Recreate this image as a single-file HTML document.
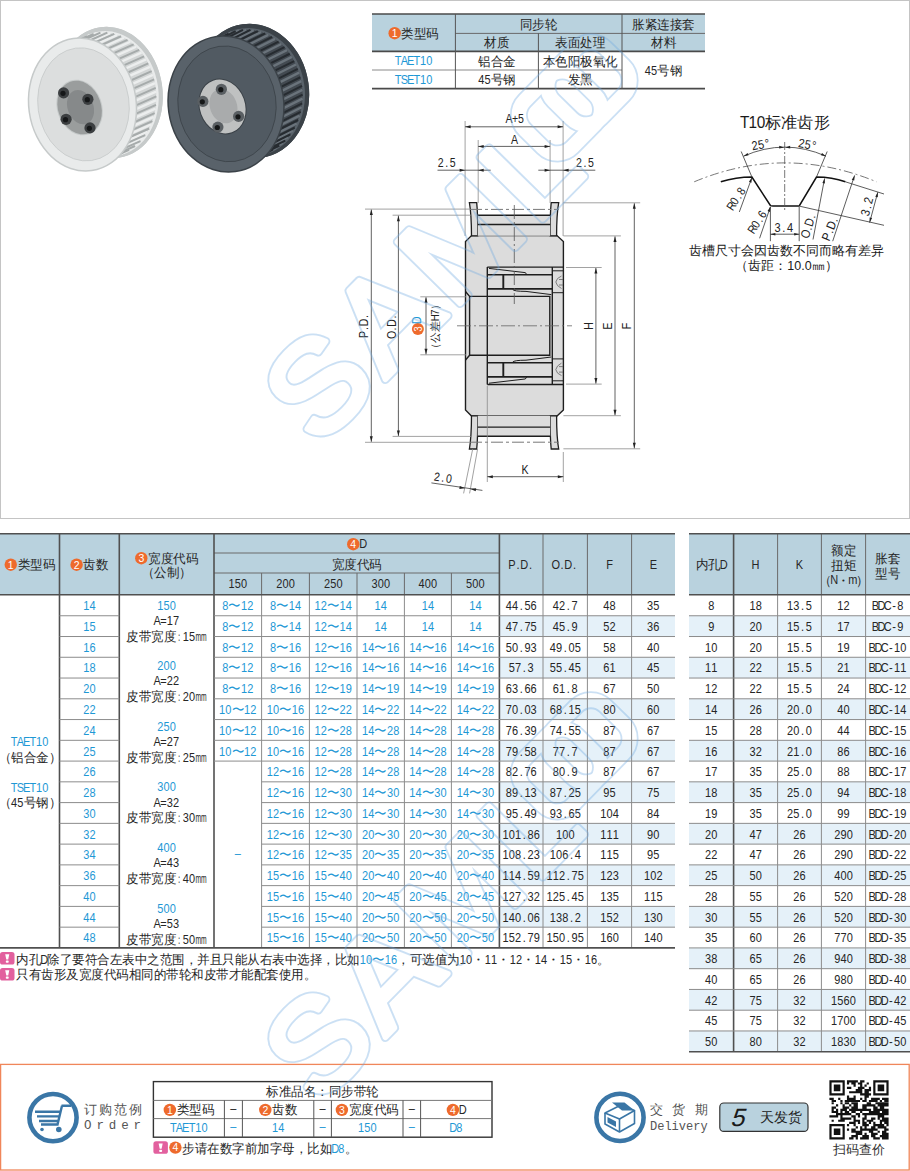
<!DOCTYPE html><html><head><meta charset="utf-8"><style>html,body{margin:0;padding:0;background:#fff;width:910px;height:1171px;overflow:hidden}svg{display:block;font-family:"Liberation Sans",sans-serif}</style></head><body>
<svg width="910" height="1171" viewBox="0 0 910 1171">
<rect x="0.5" y="0.5" width="909" height="518" fill="none" stroke="#c4c4c4" stroke-width="1"/>
<ellipse cx="109.50" cy="92.50" rx="53.00" ry="66.00" transform="rotate(-8 109.50 92.50)" fill="#c6caca"/>
<ellipse cx="108.00" cy="93.30" rx="50.35" ry="62.70" transform="rotate(-8 109.50 92.50)" fill="#e9ebeb"/>
<ellipse cx="106.80" cy="93.70" rx="49.29" ry="61.38" transform="rotate(-8 106.80 93.70)" fill="#d3d6d6"/>
<ellipse cx="104.37" cy="94.78" rx="49.29" ry="61.38" transform="rotate(-8 104.37 94.78)" fill="#d3d6d6"/>
<ellipse cx="101.94" cy="95.86" rx="49.29" ry="61.38" transform="rotate(-8 101.94 95.86)" fill="#d3d6d6"/>
<ellipse cx="99.51" cy="96.94" rx="49.29" ry="61.38" transform="rotate(-8 99.51 96.94)" fill="#d3d6d6"/>
<ellipse cx="97.08" cy="98.02" rx="49.29" ry="61.38" transform="rotate(-8 97.08 98.02)" fill="#d3d6d6"/>
<ellipse cx="94.65" cy="99.10" rx="49.29" ry="61.38" transform="rotate(-8 94.65 99.10)" fill="#d3d6d6"/>
<ellipse cx="92.22" cy="100.18" rx="49.29" ry="61.38" transform="rotate(-8 92.22 100.18)" fill="#d3d6d6"/>
<ellipse cx="89.79" cy="101.26" rx="49.29" ry="61.38" transform="rotate(-8 89.79 101.26)" fill="#d3d6d6"/>
<ellipse cx="87.36" cy="102.34" rx="49.29" ry="61.38" transform="rotate(-8 87.36 102.34)" fill="#d3d6d6"/>
<ellipse cx="84.93" cy="103.42" rx="49.29" ry="61.38" transform="rotate(-8 84.93 103.42)" fill="#d3d6d6"/>
<path d="M59.30,48.80L83.60,38.00M65.65,45.82L89.95,35.02M72.33,43.98L96.63,33.18M79.21,43.33L103.51,32.53M86.16,43.89L110.46,33.09M93.03,45.63L117.33,34.83M99.69,48.53L123.99,37.73M106.02,52.53L130.32,41.73M111.89,57.55L136.19,46.75M117.18,63.49L141.48,52.69M121.78,70.24L146.08,59.44M125.62,77.66L149.92,66.86M128.61,85.60L152.91,74.80M130.69,93.92L154.99,83.12M131.83,102.45L156.13,91.65M132.00,111.01L156.30,100.21M131.20,119.45L155.50,108.65M129.44,127.60L153.74,116.80M126.76,135.29L151.06,124.49M123.21,142.37L147.51,131.57M118.86,148.72L143.16,137.92M113.79,154.19L138.09,143.39M108.11,158.69L132.41,147.89M101.93,162.12L126.23,151.32M95.37,164.43L119.67,153.63M88.55,165.55L112.85,154.75M81.62,165.48L105.92,154.68M74.70,164.21L99.00,153.41" stroke="#eceeee" stroke-width="2.4" fill="none"/>
<path d="M56.59,50.51L80.89,39.71M62.75,47.02L87.05,36.22M69.29,44.66L93.59,33.86M76.10,43.48L100.40,32.68M83.03,43.49L107.33,32.69M89.95,44.70L114.25,33.90M96.73,47.08L121.03,36.28M103.22,50.60L127.52,39.80M109.31,55.17L133.61,44.37M114.87,60.71L139.17,49.91M119.80,67.11L144.10,56.31M123.99,74.24L148.29,63.44M127.37,81.97L151.67,71.17M129.87,90.14L154.17,79.34M131.44,98.60L155.74,87.80M132.04,107.16L156.34,96.36M131.68,115.68L155.98,104.88M130.35,123.98L154.65,113.18M128.07,131.89L152.37,121.09M124.91,139.27L149.21,128.47M120.91,145.96L145.21,135.16M116.15,151.84L140.45,141.04M110.74,156.79L135.04,145.99M104.77,160.71L129.07,149.91M98.36,163.53L122.66,152.73M91.64,165.19L115.94,154.39M84.75,165.66L109.05,154.86M77.80,164.93L102.10,154.13" stroke="#a6abab" stroke-width="2.0" fill="none"/>
<ellipse cx="109.50" cy="92.50" rx="52.20" ry="65.01" transform="rotate(-8 109.50 92.50)" fill="none" stroke="#c6caca" stroke-width="1.6"/>
<ellipse cx="82.50" cy="104.50" rx="54.50" ry="67.50" transform="rotate(-8 82.50 104.50)" fill="#c6caca"/>
<ellipse cx="82.50" cy="104.50" rx="53.00" ry="66.00" transform="rotate(-8 82.50 104.50)" fill="#e9ebeb"/>
<ellipse cx="83.50" cy="104.50" rx="45.58" ry="56.76" transform="rotate(-8 82.50 104.50)" fill="#dcdede" stroke="#c6caca" stroke-width="0.8"/>
<ellipse cx="79.60" cy="107.50" rx="22.50" ry="28.50" transform="rotate(-20 79.60 107.50)" fill="#c6caca"/>
<ellipse cx="79.60" cy="107.50" rx="21.50" ry="27.50" transform="rotate(-20 79.60 107.50)" fill="#9a9d9d"/>
<ellipse cx="80.60" cy="107.50" rx="12.90" ry="17.60" transform="rotate(-20 79.60 107.50)" fill="#86898a"/>
<circle cx="63.60" cy="92.90" r="5.6" fill="#3c3f41"/>
<circle cx="63.00" cy="93.30" r="2.6" fill="#151718"/>
<circle cx="87.90" cy="99.30" r="5.6" fill="#3c3f41"/>
<circle cx="87.30" cy="99.70" r="2.6" fill="#151718"/>
<circle cx="66.10" cy="119.30" r="5.6" fill="#3c3f41"/>
<circle cx="65.50" cy="119.70" r="2.6" fill="#151718"/>
<circle cx="90.00" cy="127.90" r="5.6" fill="#3c3f41"/>
<circle cx="89.40" cy="128.30" r="2.6" fill="#151718"/>
<ellipse cx="252.00" cy="91.00" rx="57.00" ry="67.50" transform="rotate(-8 252.00 91.00)" fill="#3b4248"/>
<ellipse cx="250.50" cy="91.80" rx="54.15" ry="64.12" transform="rotate(-8 252.00 91.00)" fill="#59626a"/>
<ellipse cx="249.40" cy="92.30" rx="53.01" ry="62.78" transform="rotate(-8 249.40 92.30)" fill="#434a51"/>
<ellipse cx="247.06" cy="93.47" rx="53.01" ry="62.78" transform="rotate(-8 247.06 93.47)" fill="#434a51"/>
<ellipse cx="244.72" cy="94.64" rx="53.01" ry="62.78" transform="rotate(-8 244.72 94.64)" fill="#434a51"/>
<ellipse cx="242.38" cy="95.81" rx="53.01" ry="62.78" transform="rotate(-8 242.38 95.81)" fill="#434a51"/>
<ellipse cx="240.04" cy="96.98" rx="53.01" ry="62.78" transform="rotate(-8 240.04 96.98)" fill="#434a51"/>
<ellipse cx="237.70" cy="98.15" rx="53.01" ry="62.78" transform="rotate(-8 237.70 98.15)" fill="#434a51"/>
<ellipse cx="235.36" cy="99.32" rx="53.01" ry="62.78" transform="rotate(-8 235.36 99.32)" fill="#434a51"/>
<ellipse cx="233.02" cy="100.49" rx="53.01" ry="62.78" transform="rotate(-8 233.02 100.49)" fill="#434a51"/>
<ellipse cx="230.68" cy="101.66" rx="53.01" ry="62.78" transform="rotate(-8 230.68 101.66)" fill="#434a51"/>
<ellipse cx="228.34" cy="102.83" rx="53.01" ry="62.78" transform="rotate(-8 228.34 102.83)" fill="#434a51"/>
<path d="M201.48,47.15L224.88,35.45M208.33,44.05L231.73,32.35M215.52,42.12L238.92,30.42M222.91,41.40L246.31,29.70M230.37,41.92L253.77,30.22M237.74,43.66L261.14,31.96M244.88,46.58L268.28,34.88M251.65,50.62L275.05,38.92M257.92,55.72L281.32,44.02M263.56,61.76L286.96,50.06M268.46,68.64L291.86,56.94M272.53,76.21L295.93,64.51M275.68,84.32L299.08,72.62M277.86,92.82L301.26,81.12M279.02,101.54L302.42,89.84M279.14,110.31L302.54,98.61M278.21,118.95L301.61,107.25M276.26,127.30L299.66,115.60M273.33,135.20L296.73,123.50M269.46,142.48L292.86,130.78M264.74,149.00L288.14,137.30M259.26,154.64L282.66,142.94M253.13,159.29L276.53,147.59M246.46,162.85L269.86,151.15M239.39,165.26L262.79,153.56M232.06,166.46L255.46,154.76M224.61,166.43L248.01,154.73M217.19,165.18L240.59,153.48" stroke="#6a737b" stroke-width="2.4" fill="none"/>
<path d="M198.55,48.92L221.95,37.22M205.20,45.30L228.60,33.60M212.25,42.84L235.65,31.14M219.57,41.57L242.97,29.87M227.02,41.54L250.42,29.84M234.44,42.72L257.84,31.02M241.71,45.12L265.11,33.42M248.66,48.67L272.06,36.97M255.17,53.30L278.57,41.60M261.10,58.93L284.50,47.23M266.35,65.45L289.75,53.75M270.80,72.72L294.20,61.02M274.38,80.61L297.78,68.91M277.00,88.96L300.40,77.26M278.62,97.60L302.02,85.90M279.21,106.37L302.61,94.67M278.76,115.09L302.16,103.39M277.27,123.59L300.67,111.89M274.77,131.71L298.17,120.01M271.31,139.29L294.71,127.59M266.97,146.17L290.37,134.47M261.81,152.22L285.21,140.52M255.96,157.33L279.36,145.63M249.52,161.39L272.92,149.69M242.61,164.32L266.01,152.62M235.38,166.07L258.78,154.37M227.97,166.60L251.37,154.90M220.52,165.90L243.92,154.20" stroke="#262b30" stroke-width="2.0" fill="none"/>
<ellipse cx="252.00" cy="91.00" rx="56.14" ry="66.49" transform="rotate(-8 252.00 91.00)" fill="none" stroke="#3b4248" stroke-width="1.6"/>
<ellipse cx="226.00" cy="104.00" rx="58.50" ry="69.00" transform="rotate(-8 226.00 104.00)" fill="#3b4248"/>
<ellipse cx="226.00" cy="104.00" rx="57.00" ry="67.50" transform="rotate(-8 226.00 104.00)" fill="#59626a"/>
<ellipse cx="227.00" cy="104.00" rx="49.02" ry="58.05" transform="rotate(-8 226.00 104.00)" fill="#515a62" stroke="#3b4248" stroke-width="0.8"/>
<ellipse cx="222.50" cy="106.50" rx="23.50" ry="28.50" transform="rotate(-20 222.50 106.50)" fill="#3b4248"/>
<ellipse cx="222.50" cy="106.50" rx="22.50" ry="27.50" transform="rotate(-20 222.50 106.50)" fill="#bfc1c1"/>
<ellipse cx="223.50" cy="106.50" rx="13.50" ry="17.60" transform="rotate(-20 222.50 106.50)" fill="#a9abac"/>
<circle cx="221.40" cy="89.30" r="5.6" fill="#5a5f63"/>
<circle cx="220.80" cy="89.70" r="2.6" fill="#151718"/>
<circle cx="202.90" cy="101.40" r="5.6" fill="#5a5f63"/>
<circle cx="202.30" cy="101.80" r="2.6" fill="#151718"/>
<circle cx="238.60" cy="116.40" r="5.6" fill="#5a5f63"/>
<circle cx="238.00" cy="116.80" r="2.6" fill="#151718"/>
<circle cx="217.90" cy="127.10" r="5.6" fill="#5a5f63"/>
<circle cx="217.30" cy="127.50" r="2.6" fill="#151718"/>
<rect x="372.00" y="14.00" width="333.00" height="37.40" fill="#b9d2de" />
<line x1="372.00" y1="14.00" x2="705.00" y2="14.00" stroke="#4a4a4a" stroke-width="1.6" />
<line x1="455.40" y1="33.40" x2="705.00" y2="33.40" stroke="#6a6a6a" stroke-width="1" />
<line x1="372.00" y1="51.40" x2="705.00" y2="51.40" stroke="#4a4a4a" stroke-width="1.6" />
<line x1="372.00" y1="70.00" x2="622.00" y2="70.00" stroke="#8a8a8a" stroke-width="1" />
<line x1="372.00" y1="88.60" x2="705.00" y2="88.60" stroke="#4a4a4a" stroke-width="1.6" />
<line x1="455.40" y1="14.00" x2="455.40" y2="88.60" stroke="#555" stroke-width="1" />
<line x1="538.40" y1="33.40" x2="538.40" y2="88.60" stroke="#555" stroke-width="1" />
<line x1="622.00" y1="14.00" x2="622.00" y2="88.60" stroke="#555" stroke-width="1" />
<circle cx="394.65" cy="33.20" r="6.2" fill="#ee6a2c"/>
<text x="394.65" y="37.00" font-size="10.5" fill="#fff" text-anchor="middle">1</text>
<text x="401.45" y="37.50" font-size="12.5" fill="#262626" text-anchor="start" textLength="37.50" lengthAdjust="spacingAndGlyphs" >类型码</text>
<text x="519.95" y="29.00" font-size="12.5" fill="#262626" text-anchor="start" textLength="37.50" lengthAdjust="spacingAndGlyphs" >同步轮</text>
<text x="632.25" y="29.00" font-size="12.5" fill="#262626" text-anchor="start" textLength="62.50" lengthAdjust="spacingAndGlyphs" >胀紧连接套</text>
<text x="484.40" y="47.20" font-size="12.5" fill="#262626" text-anchor="start" textLength="25.00" lengthAdjust="spacingAndGlyphs" >材质</text>
<text x="555.20" y="47.20" font-size="12.5" fill="#262626" text-anchor="start" textLength="50.00" lengthAdjust="spacingAndGlyphs" >表面处理</text>
<text x="651.00" y="47.20" font-size="12.5" fill="#262626" text-anchor="start" textLength="25.00" lengthAdjust="spacingAndGlyphs" >材料</text>
<text x="395.94 403.05 410.15 417.25 424.35 431.46" y="65.50" font-size="12.5" fill="#1e98d5" text-anchor="middle" transform="matrix(0.88,0,0,1,49.64,0)" >TAET10</text>
<text x="395.94 403.05 410.15 417.25 424.35 431.46" y="84.00" font-size="12.5" fill="#1e98d5" text-anchor="middle" transform="matrix(0.88,0,0,1,49.64,0)" >TSET10</text>
<text x="478.15" y="65.60" font-size="12.5" fill="#262626" text-anchor="start" textLength="37.50" lengthAdjust="spacingAndGlyphs" >铝合金</text>
<text x="480.85 487.95" y="84.20" font-size="12.5" fill="#262626" text-anchor="middle" transform="matrix(0.88,0,0,1,58.13,0)" >45</text>
<text x="490.65" y="84.20" font-size="12.5" fill="#262626" text-anchor="start" textLength="25.00" lengthAdjust="spacingAndGlyphs" >号钢</text>
<text x="542.70" y="65.60" font-size="12.5" fill="#262626" text-anchor="start" textLength="75.00" lengthAdjust="spacingAndGlyphs" >本色阳极氧化</text>
<text x="567.70" y="84.20" font-size="12.5" fill="#262626" text-anchor="start" textLength="25.00" lengthAdjust="spacingAndGlyphs" >发黑</text>
<text x="647.45 654.55" y="74.80" font-size="12.5" fill="#262626" text-anchor="middle" transform="matrix(0.88,0,0,1,78.12,0)" >45</text>
<text x="657.25" y="74.80" font-size="12.5" fill="#262626" text-anchor="start" textLength="25.00" lengthAdjust="spacingAndGlyphs" >号钢</text>
<path d="M471.5,235.6 L557,235.6 L563.4,241.5 L563.4,410 L557,416 L471.5,416 L465.5,410 L465.5,241.5 Z" fill="#dcdcdc" stroke="#1e1e1e" stroke-width="1.4"/>
<path d="M469.4,202.6 L476.7,202.6 Q477.9,214 477.7,235.8 L471.5,235.8 Q471.4,214 469.4,202.6 Z" fill="#dcdcdc" stroke="#1e1e1e" stroke-width="1.3"/>
<path d="M551.2,202.6 L558.7,202.6 Q556.6,214 556.6,235.8 L550.2,235.8 Q550.0,214 551.2,202.6 Z" fill="#dcdcdc" stroke="#1e1e1e" stroke-width="1.3"/>
<rect x="477.7" y="215.3" width="72.5" height="20.5" fill="#dcdcdc"/>
<path d="M477.7,215.3 H550.2 M477.7,224.5 H550.2" stroke="#1e1e1e" stroke-width="1.4" fill="none"/>
<g transform="matrix(1,0,0,-1,0,651.6)">
<path d="M469.4,202.6 L476.7,202.6 Q477.9,214 477.7,235.8 L471.5,235.8 Q471.4,214 469.4,202.6 Z" fill="#dcdcdc" stroke="#1e1e1e" stroke-width="1.3"/>
<path d="M551.2,202.6 L558.7,202.6 Q556.6,214 556.6,235.8 L550.2,235.8 Q550.0,214 551.2,202.6 Z" fill="#dcdcdc" stroke="#1e1e1e" stroke-width="1.3"/>
<rect x="477.7" y="215.3" width="72.5" height="20.5" fill="#dcdcdc"/>
<path d="M477.7,215.3 H550.2 M477.7,224.5 H550.2" stroke="#1e1e1e" stroke-width="1.4" fill="none"/>
</g>
<path d="M470,209.4 H559 M470,442.2 H559" stroke="#777" stroke-width="1" stroke-dasharray="12,3,3,3" fill="none"/>
<path d="M487.3,267.1 H563.4 M487.3,384.5 H563.4 M487.3,267.1 V384.5" stroke="#1e1e1e" fill="none" stroke-width="1.4"/>
<path d="M465.5,291.5 L469.6,296.4 H549.8 V355.2 H469.6 L465.5,360 M469.6,296.4 V355.2" stroke="#1e1e1e" fill="none" stroke-width="1.4"/>
<path d="M552.3,267.1 V384.5" stroke="#1e1e1e" fill="none" stroke-width="1.4"/>
<path d="M489,268.40 L525,272.60 Q526.5,273.20 526.5,274.60 M512.7,289.50 Q514,291.40 526,291.40 L551.3,294.60" stroke="#1e1e1e" fill="none" stroke-width="1"/>
<path d="M487.3,274.70 H552.3 M487.3,288.90 H552.3" stroke="#1e1e1e" fill="none" stroke-width="1.6"/>
<path d="M503.3,274.70 V288.90" stroke="#1e1e1e" fill="none" stroke-width="1.9"/>
<path d="M552.3,270.80 H563.4 M552.3,292.70 H563.4" stroke="#1e1e1e" fill="none" stroke-width="1"/>
<path d="M561.5,276.00 Q556.5,278.00 555.8,282.00 Q556.5,286.00 561.5,288.50 M563,279.50 H559 M563,285.00 H559" stroke="#666" fill="none" stroke-width="0.8"/>
<path d="M489,383.20 L525,379.00 Q526.5,378.40 526.5,377.00 M512.7,362.10 Q514,360.20 526,360.20 L551.3,357.00" stroke="#1e1e1e" fill="none" stroke-width="1"/>
<path d="M487.3,376.90 H552.3 M487.3,362.70 H552.3" stroke="#1e1e1e" fill="none" stroke-width="1.6"/>
<path d="M503.3,376.90 V362.70" stroke="#1e1e1e" fill="none" stroke-width="1.9"/>
<path d="M552.3,380.80 H563.4 M552.3,358.90 H563.4" stroke="#1e1e1e" fill="none" stroke-width="1"/>
<path d="M561.5,375.60 Q556.5,373.60 555.8,369.60 Q556.5,365.60 561.5,363.10 M563,372.10 H559 M563,366.60 H559" stroke="#666" fill="none" stroke-width="0.8"/>
<path d="M514.3,205 V304" stroke="#555" stroke-width="0.8" stroke-dasharray="14,3,2,3" fill="none"/>
<path d="M457,325.8 H572" stroke="#666" stroke-width="0.8" stroke-dasharray="14,3,2,3" fill="none"/>
<line x1="465.10" y1="121.00" x2="465.10" y2="236.00" stroke="#8a8a8a" stroke-width="0.8" />
<line x1="563.10" y1="121.00" x2="563.10" y2="236.00" stroke="#8a8a8a" stroke-width="0.8" />
<line x1="478.20" y1="140.00" x2="478.20" y2="203.00" stroke="#8a8a8a" stroke-width="0.8" />
<line x1="550.10" y1="140.00" x2="550.10" y2="203.00" stroke="#8a8a8a" stroke-width="0.8" />
<line x1="465.10" y1="126.80" x2="563.10" y2="126.80" stroke="#3a3a3a" stroke-width="0.8" />
<path d="M465.10,126.80L470.60,125.30L470.60,128.30Z" fill="#222"/>
<path d="M563.10,126.80L557.60,128.30L557.60,125.30Z" fill="#222"/>
<text x="508.18 515.00 521.82" y="123.22" font-size="12" fill="#222" text-anchor="middle" transform="matrix(0.88,0,0,1,61.80,0)" >A+5</text>
<line x1="478.20" y1="146.40" x2="550.10" y2="146.40" stroke="#3a3a3a" stroke-width="0.8" />
<path d="M478.20,146.40L483.70,144.90L483.70,147.90Z" fill="#222"/>
<path d="M550.10,146.40L544.60,147.90L544.60,144.90Z" fill="#222"/>
<text x="514.50" y="143.72" font-size="12" fill="#222" text-anchor="middle" transform="matrix(0.88,0,0,1,61.74,0)" >A</text>
<line x1="437.50" y1="170.20" x2="490.70" y2="170.20" stroke="#3a3a3a" stroke-width="0.8" />
<path d="M465.10,170.20L459.60,171.70L459.60,168.70Z" fill="#222"/>
<path d="M478.20,170.20L483.70,168.70L483.70,171.70Z" fill="#222"/>
<line x1="538.30" y1="170.20" x2="595.30" y2="170.20" stroke="#3a3a3a" stroke-width="0.8" />
<path d="M550.10,170.20L544.60,171.70L544.60,168.70Z" fill="#222"/>
<path d="M563.10,170.20L568.60,168.70L568.60,171.70Z" fill="#222"/>
<text x="439.98 446.80 453.62" y="166.82" font-size="12" fill="#222" text-anchor="middle" transform="matrix(0.88,0,0,1,53.62,0)" >2.5</text>
<text x="578.08 584.90 591.72" y="166.82" font-size="12" fill="#222" text-anchor="middle" transform="matrix(0.88,0,0,1,70.19,0)" >2.5</text>
<line x1="365.00" y1="209.10" x2="470.00" y2="209.10" stroke="#8a8a8a" stroke-width="0.8" />
<line x1="365.00" y1="442.30" x2="470.00" y2="442.30" stroke="#8a8a8a" stroke-width="0.8" />
<line x1="371.30" y1="209.60" x2="371.30" y2="441.80" stroke="#3a3a3a" stroke-width="0.8" />
<path d="M371.30,209.60L372.80,215.10L369.80,215.10Z" fill="#222"/>
<path d="M371.30,441.80L369.80,436.30L372.80,436.30Z" fill="#222"/>
<line x1="392.60" y1="215.20" x2="471.00" y2="215.20" stroke="#8a8a8a" stroke-width="0.8" />
<line x1="392.60" y1="436.40" x2="471.00" y2="436.40" stroke="#8a8a8a" stroke-width="0.8" />
<line x1="398.40" y1="215.70" x2="398.40" y2="435.90" stroke="#3a3a3a" stroke-width="0.8" />
<path d="M398.40,215.70L399.90,221.20L396.90,221.20Z" fill="#222"/>
<path d="M398.40,435.90L396.90,430.40L399.90,430.40Z" fill="#222"/>
<line x1="420.30" y1="296.80" x2="466.00" y2="296.80" stroke="#8a8a8a" stroke-width="0.8" />
<line x1="420.30" y1="354.80" x2="466.00" y2="354.80" stroke="#8a8a8a" stroke-width="0.8" />
<line x1="426.00" y1="297.30" x2="426.00" y2="354.30" stroke="#3a3a3a" stroke-width="0.8" />
<path d="M426.00,297.30L427.50,302.80L424.50,302.80Z" fill="#222"/>
<path d="M426.00,354.30L424.50,348.80L427.50,348.80Z" fill="#222"/>
<text x="353.77 360.59 367.41 374.23" y="329.82" font-size="12" fill="#222" text-anchor="middle" transform="rotate(-90 364.00 325.50) matrix(0.88,0,0,1,43.68,0)" >P.D.</text>
<text x="381.17 387.99 394.81 401.63" y="330.32" font-size="12" fill="#222" text-anchor="middle" transform="rotate(-90 391.40 326.00) matrix(0.88,0,0,1,46.97,0)" >O.D.</text>
<circle cx="417.9" cy="329" r="6" fill="#ee6a2c"/>
<text x="417.90" y="332.78" font-size="10.5" fill="#fff" text-anchor="middle" transform="rotate(-90 417.90 329.00) matrix(0.88,0,0,1,50.15,0)" >3</text>
<text x="416.50" y="324.62" font-size="12" fill="#1e98d5" text-anchor="middle" transform="rotate(-90 416.50 320.30) matrix(0.88,0,0,1,49.98,0)" >D</text>
<text x="407.10" y="329.96" font-size="11" fill="#222" text-anchor="start" textLength="33.00" lengthAdjust="spacingAndGlyphs" transform="rotate(-90 434.60 326.00)" >（公差</text>
<text x="442.48 448.73" y="329.96" font-size="11" fill="#222" text-anchor="middle" transform="rotate(-90 434.60 326.00) matrix(0.88,0,0,1,53.47,0)" >H7</text>
<text x="451.10" y="329.96" font-size="11" fill="#222" text-anchor="start" textLength="11.00" lengthAdjust="spacingAndGlyphs" transform="rotate(-90 434.60 326.00)" >）</text>
<line x1="563.40" y1="202.80" x2="640.20" y2="202.80" stroke="#8a8a8a" stroke-width="0.8" />
<line x1="563.40" y1="448.80" x2="640.20" y2="448.80" stroke="#8a8a8a" stroke-width="0.8" />
<line x1="634.30" y1="203.30" x2="634.30" y2="448.30" stroke="#3a3a3a" stroke-width="0.8" />
<path d="M634.30,203.30L635.80,208.80L632.80,208.80Z" fill="#222"/>
<path d="M634.30,448.30L632.80,442.80L635.80,442.80Z" fill="#222"/>
<line x1="563.40" y1="235.90" x2="620.90" y2="235.90" stroke="#8a8a8a" stroke-width="0.8" />
<line x1="563.40" y1="415.70" x2="620.90" y2="415.70" stroke="#8a8a8a" stroke-width="0.8" />
<line x1="615.00" y1="236.40" x2="615.00" y2="415.20" stroke="#3a3a3a" stroke-width="0.8" />
<path d="M615.00,236.40L616.50,241.90L613.50,241.90Z" fill="#222"/>
<path d="M615.00,415.20L613.50,409.70L616.50,409.70Z" fill="#222"/>
<line x1="566.00" y1="267.50" x2="601.70" y2="267.50" stroke="#8a8a8a" stroke-width="0.8" />
<line x1="566.00" y1="384.10" x2="601.70" y2="384.10" stroke="#8a8a8a" stroke-width="0.8" />
<line x1="595.90" y1="268.00" x2="595.90" y2="383.60" stroke="#3a3a3a" stroke-width="0.8" />
<path d="M595.90,268.00L597.40,273.50L594.40,273.50Z" fill="#222"/>
<path d="M595.90,383.60L594.40,378.10L597.40,378.10Z" fill="#222"/>
<text x="588.60" y="330.22" font-size="12" fill="#222" text-anchor="middle" transform="rotate(-90 588.60 325.90) matrix(0.88,0,0,1,70.63,0)" >H</text>
<text x="607.50" y="330.22" font-size="12" fill="#222" text-anchor="middle" transform="rotate(-90 607.50 325.90) matrix(0.88,0,0,1,72.90,0)" >E</text>
<text x="626.50" y="330.22" font-size="12" fill="#222" text-anchor="middle" transform="rotate(-90 626.50 325.90) matrix(0.88,0,0,1,75.18,0)" >F</text>
<line x1="487.30" y1="386.00" x2="487.30" y2="482.00" stroke="#8a8a8a" stroke-width="0.8" />
<line x1="563.30" y1="452.00" x2="563.30" y2="482.00" stroke="#8a8a8a" stroke-width="0.8" />
<line x1="487.30" y1="476.70" x2="563.30" y2="476.70" stroke="#3a3a3a" stroke-width="0.8" />
<path d="M487.30,476.70L492.80,475.20L492.80,478.20Z" fill="#222"/>
<path d="M563.30,476.70L557.80,478.20L557.80,475.20Z" fill="#222"/>
<text x="525.00" y="474.32" font-size="12" fill="#222" text-anchor="middle" transform="matrix(0.88,0,0,1,63.00,0)" >K</text>
<line x1="472.70" y1="449.00" x2="463.60" y2="493.40" stroke="#8a8a8a" stroke-width="0.8" />
<line x1="477.60" y1="449.00" x2="469.60" y2="493.40" stroke="#8a8a8a" stroke-width="0.8" />
<line x1="431.40" y1="482.90" x2="482.40" y2="490.40" stroke="#3a3a3a" stroke-width="0.8" />
<path d="M465.00,488.20L459.34,488.88L459.78,485.92Z" fill="#222"/>
<path d="M470.50,489.00L476.16,488.32L475.72,491.28Z" fill="#222"/>
<text x="436.18 443.00 449.82" y="481.82" font-size="12" fill="#222" text-anchor="middle" transform="rotate(8 443.00 477.50) matrix(0.88,0,0,1,53.16,0)" >2.0</text>
<text x="744.37 752.90 761.43" y="128.20" font-size="16.2" fill="#1a1a1a" text-anchor="middle" transform="matrix(0.95,0,0,1,37.65,0)" >T10</text>
<text x="765.05" y="128.20" font-size="16.2" fill="#1a1a1a" text-anchor="start" textLength="64.80" lengthAdjust="spacingAndGlyphs" >标准齿形</text>
<path d="M694.2,181.8 Q784.7,144 876.5,181.8" fill="none" stroke="#555" stroke-width="0.8" stroke-dasharray="9,3,2,3"/>
<path d="M720.8,181.8 Q736,177 751.9,177 L770.4,205.5 Q771,206.1 773,206.1 L797,206.1 Q799,206.1 799.5,205.5 L816.5,177 Q832,177 845.4,181.8" fill="none" stroke="#111" stroke-width="1.5"/>
<path d="M784.7,142 V210" stroke="#555" stroke-width="0.8" stroke-dasharray="8,2,2,2" fill="none"/>
<line x1="751.90" y1="177.00" x2="741.20" y2="151.50" stroke="#333" stroke-width="0.8" />
<line x1="816.50" y1="177.00" x2="827.20" y2="151.50" stroke="#333" stroke-width="0.8" />
<path d="M743.5,156.2 Q784.7,138 826,156.2" fill="none" stroke="#333" stroke-width="0.8"/>
<path d="M784.20,147.40L779.14,148.45L779.27,145.85Z" fill="#222"/>
<path d="M785.20,147.40L790.13,145.85L790.26,148.45Z" fill="#222"/>
<path d="M743.50,156.20L747.53,152.96L748.59,155.33Z" fill="#222"/>
<path d="M826.00,156.20L820.91,155.33L821.97,152.96Z" fill="#222"/>
<text x="753.90 761.00 768.10" y="148.80" font-size="12.5" fill="#222" text-anchor="middle" transform="rotate(-10 761.00 144.30) matrix(0.88,0,0,1,91.32,0)" >25°</text>
<text x="800.70 807.80 814.90" y="148.80" font-size="12.5" fill="#222" text-anchor="middle" transform="rotate(10 807.80 144.30) matrix(0.88,0,0,1,96.94,0)" >25°</text>
<line x1="739.30" y1="212.00" x2="751.90" y2="177.60" stroke="#333" stroke-width="0.8" />
<path d="M751.90,177.60L751.40,182.74L748.96,181.85Z" fill="#222"/>
<text x="725.77 732.59 739.41 746.23" y="202.72" font-size="12" fill="#222" text-anchor="middle" transform="rotate(-57 736.00 198.40) matrix(0.88,0,0,1,88.32,0)" >R0.8</text>
<line x1="759.60" y1="238.30" x2="770.40" y2="206.80" stroke="#333" stroke-width="0.8" />
<path d="M770.40,206.80L770.01,211.95L767.55,211.11Z" fill="#222"/>
<text x="746.97 753.79 760.61 767.43" y="226.02" font-size="12" fill="#222" text-anchor="middle" transform="rotate(-57 757.20 221.70) matrix(0.88,0,0,1,90.86,0)" >R0.6</text>
<line x1="770.40" y1="207.00" x2="770.40" y2="241.20" stroke="#333" stroke-width="0.8" />
<line x1="799.20" y1="207.00" x2="799.20" y2="241.20" stroke="#333" stroke-width="0.8" />
<line x1="770.40" y1="234.20" x2="799.20" y2="234.20" stroke="#333" stroke-width="0.8" />
<path d="M770.40,234.20L775.40,232.90L775.40,235.50Z" fill="#222"/>
<path d="M799.20,234.20L794.20,235.50L794.20,232.90Z" fill="#222"/>
<text x="776.70 783.80 790.90" y="232.20" font-size="12.5" fill="#222" text-anchor="middle" transform="matrix(0.88,0,0,1,94.06,0)" >3.4</text>
<line x1="813.00" y1="239.50" x2="824.60" y2="178.40" stroke="#333" stroke-width="0.8" />
<path d="M824.60,178.40L824.94,183.55L822.39,183.07Z" fill="#222"/>
<text x="797.55 804.65 811.75 818.85" y="229.50" font-size="12.5" fill="#222" text-anchor="middle" transform="rotate(-73 808.20 225.00) matrix(0.88,0,0,1,96.98,0)" >O.D.</text>
<line x1="832.70" y1="241.20" x2="854.60" y2="175.40" stroke="#333" stroke-width="0.8" />
<path d="M854.60,175.40L854.24,180.55L851.77,179.72Z" fill="#222"/>
<text x="819.35 826.45 833.55 840.65" y="232.50" font-size="12.5" fill="#222" text-anchor="middle" transform="rotate(-68 830.00 228.00) matrix(0.88,0,0,1,99.60,0)" >P.D.</text>
<line x1="799.20" y1="206.10" x2="884.00" y2="225.30" stroke="#333" stroke-width="0.8" />
<line x1="845.40" y1="181.80" x2="884.00" y2="194.00" stroke="#333" stroke-width="0.8" />
<line x1="877.80" y1="192.20" x2="869.60" y2="222.60" stroke="#333" stroke-width="0.8" />
<path d="M877.80,192.20L877.80,197.37L875.28,196.71Z" fill="#222"/>
<path d="M869.60,222.60L869.60,217.43L872.12,218.09Z" fill="#222"/>
<text x="859.60 866.70 873.80" y="211.00" font-size="12.5" fill="#222" text-anchor="middle" transform="rotate(-75 866.70 206.50) matrix(0.88,0,0,1,104.00,0)" >3.2</text>
<text x="786.90" y="254.60" font-size="12.8" fill="#1a1a1a" text-anchor="middle" >齿槽尺寸会因齿数不同而略有差异</text>
<text x="786.50" y="270.00" font-size="12.5" fill="#1a1a1a" text-anchor="middle" >（齿距：10.0㎜）</text>
<rect x="0.00" y="533.50" width="675.00" height="61.30" fill="#b9d2de" />
<rect x="689.00" y="533.50" width="221.00" height="61.30" fill="#b9d2de" />
<rect x="499.40" y="615.76" width="175.60" height="20.76" fill="#e5f1f9" />
<rect x="499.40" y="657.28" width="175.60" height="20.76" fill="#e5f1f9" />
<rect x="499.40" y="698.80" width="175.60" height="20.76" fill="#e5f1f9" />
<rect x="499.40" y="740.32" width="175.60" height="20.76" fill="#e5f1f9" />
<rect x="499.40" y="781.84" width="175.60" height="20.76" fill="#e5f1f9" />
<rect x="499.40" y="823.36" width="175.60" height="20.76" fill="#e5f1f9" />
<rect x="499.40" y="864.88" width="175.60" height="20.76" fill="#e5f1f9" />
<rect x="499.40" y="906.40" width="175.60" height="20.76" fill="#e5f1f9" />
<rect x="689.00" y="615.76" width="221.00" height="20.76" fill="#e5f1f9" />
<rect x="689.00" y="657.28" width="221.00" height="20.76" fill="#e5f1f9" />
<rect x="689.00" y="698.80" width="221.00" height="20.76" fill="#e5f1f9" />
<rect x="689.00" y="740.32" width="221.00" height="20.76" fill="#e5f1f9" />
<rect x="689.00" y="781.84" width="221.00" height="20.76" fill="#e5f1f9" />
<rect x="689.00" y="823.36" width="221.00" height="20.76" fill="#e5f1f9" />
<rect x="689.00" y="864.88" width="221.00" height="20.76" fill="#e5f1f9" />
<rect x="689.00" y="906.40" width="221.00" height="20.76" fill="#e5f1f9" />
<rect x="689.00" y="947.92" width="221.00" height="20.76" fill="#e5f1f9" />
<rect x="689.00" y="989.44" width="221.00" height="20.76" fill="#e5f1f9" />
<rect x="689.00" y="1030.96" width="221.00" height="20.76" fill="#e5f1f9" />
<line x1="214.00" y1="553.00" x2="499.40" y2="553.00" stroke="#6a6a6a" stroke-width="1" />
<line x1="214.00" y1="573.00" x2="499.40" y2="573.00" stroke="#6a6a6a" stroke-width="1" />
<line x1="261.60" y1="573.00" x2="261.60" y2="594.80" stroke="#6a6a6a" stroke-width="1" />
<line x1="309.40" y1="573.00" x2="309.40" y2="594.80" stroke="#6a6a6a" stroke-width="1" />
<line x1="357.00" y1="573.00" x2="357.00" y2="594.80" stroke="#6a6a6a" stroke-width="1" />
<line x1="404.40" y1="573.00" x2="404.40" y2="594.80" stroke="#6a6a6a" stroke-width="1" />
<line x1="451.40" y1="573.00" x2="451.40" y2="594.80" stroke="#6a6a6a" stroke-width="1" />
<line x1="59.50" y1="533.50" x2="59.50" y2="947.92" stroke="#505050" stroke-width="1.6" />
<line x1="119.30" y1="533.50" x2="119.30" y2="947.92" stroke="#505050" stroke-width="1.6" />
<line x1="214.00" y1="533.50" x2="214.00" y2="947.92" stroke="#505050" stroke-width="1.6" />
<line x1="499.40" y1="533.50" x2="499.40" y2="947.92" stroke="#505050" stroke-width="1.6" />
<line x1="543.00" y1="533.50" x2="543.00" y2="594.80" stroke="#6a6a6a" stroke-width="1" />
<line x1="543.00" y1="594.80" x2="543.00" y2="947.92" stroke="#8c8c8c" stroke-width="1" />
<line x1="587.40" y1="533.50" x2="587.40" y2="594.80" stroke="#6a6a6a" stroke-width="1" />
<line x1="587.40" y1="594.80" x2="587.40" y2="947.92" stroke="#8c8c8c" stroke-width="1" />
<line x1="631.60" y1="533.50" x2="631.60" y2="594.80" stroke="#6a6a6a" stroke-width="1" />
<line x1="631.60" y1="594.80" x2="631.60" y2="947.92" stroke="#8c8c8c" stroke-width="1" />
<line x1="261.60" y1="594.80" x2="261.60" y2="947.92" stroke="#8c8c8c" stroke-width="1" />
<line x1="309.40" y1="594.80" x2="309.40" y2="947.92" stroke="#8c8c8c" stroke-width="1" />
<line x1="357.00" y1="594.80" x2="357.00" y2="947.92" stroke="#8c8c8c" stroke-width="1" />
<line x1="404.40" y1="594.80" x2="404.40" y2="947.92" stroke="#8c8c8c" stroke-width="1" />
<line x1="451.40" y1="594.80" x2="451.40" y2="947.92" stroke="#8c8c8c" stroke-width="1" />
<line x1="733.60" y1="533.50" x2="733.60" y2="1051.72" stroke="#505050" stroke-width="1.6" />
<line x1="777.60" y1="533.50" x2="777.60" y2="594.80" stroke="#6a6a6a" stroke-width="1" />
<line x1="777.60" y1="594.80" x2="777.60" y2="1051.72" stroke="#8c8c8c" stroke-width="1" />
<line x1="821.40" y1="533.50" x2="821.40" y2="594.80" stroke="#6a6a6a" stroke-width="1" />
<line x1="821.40" y1="594.80" x2="821.40" y2="1051.72" stroke="#8c8c8c" stroke-width="1" />
<line x1="865.60" y1="533.50" x2="865.60" y2="594.80" stroke="#6a6a6a" stroke-width="1" />
<line x1="865.60" y1="594.80" x2="865.60" y2="1051.72" stroke="#8c8c8c" stroke-width="1" />
<line x1="59.50" y1="615.76" x2="119.30" y2="615.76" stroke="#8c8c8c" stroke-width="1" />
<line x1="214.00" y1="615.76" x2="675.00" y2="615.76" stroke="#8c8c8c" stroke-width="1" />
<line x1="59.50" y1="636.52" x2="119.30" y2="636.52" stroke="#8c8c8c" stroke-width="1" />
<line x1="214.00" y1="636.52" x2="675.00" y2="636.52" stroke="#8c8c8c" stroke-width="1" />
<line x1="59.50" y1="657.28" x2="119.30" y2="657.28" stroke="#8c8c8c" stroke-width="1" />
<line x1="214.00" y1="657.28" x2="675.00" y2="657.28" stroke="#8c8c8c" stroke-width="1" />
<line x1="59.50" y1="678.04" x2="119.30" y2="678.04" stroke="#8c8c8c" stroke-width="1" />
<line x1="214.00" y1="678.04" x2="675.00" y2="678.04" stroke="#8c8c8c" stroke-width="1" />
<line x1="59.50" y1="698.80" x2="119.30" y2="698.80" stroke="#8c8c8c" stroke-width="1" />
<line x1="214.00" y1="698.80" x2="675.00" y2="698.80" stroke="#8c8c8c" stroke-width="1" />
<line x1="59.50" y1="719.56" x2="119.30" y2="719.56" stroke="#8c8c8c" stroke-width="1" />
<line x1="214.00" y1="719.56" x2="675.00" y2="719.56" stroke="#8c8c8c" stroke-width="1" />
<line x1="59.50" y1="740.32" x2="119.30" y2="740.32" stroke="#8c8c8c" stroke-width="1" />
<line x1="214.00" y1="740.32" x2="675.00" y2="740.32" stroke="#8c8c8c" stroke-width="1" />
<line x1="59.50" y1="761.08" x2="119.30" y2="761.08" stroke="#8c8c8c" stroke-width="1" />
<line x1="214.00" y1="761.08" x2="675.00" y2="761.08" stroke="#8c8c8c" stroke-width="1" />
<line x1="59.50" y1="781.84" x2="119.30" y2="781.84" stroke="#8c8c8c" stroke-width="1" />
<line x1="261.60" y1="781.84" x2="675.00" y2="781.84" stroke="#8c8c8c" stroke-width="1" />
<line x1="59.50" y1="802.60" x2="119.30" y2="802.60" stroke="#8c8c8c" stroke-width="1" />
<line x1="261.60" y1="802.60" x2="675.00" y2="802.60" stroke="#8c8c8c" stroke-width="1" />
<line x1="59.50" y1="823.36" x2="119.30" y2="823.36" stroke="#8c8c8c" stroke-width="1" />
<line x1="261.60" y1="823.36" x2="675.00" y2="823.36" stroke="#8c8c8c" stroke-width="1" />
<line x1="59.50" y1="844.12" x2="119.30" y2="844.12" stroke="#8c8c8c" stroke-width="1" />
<line x1="261.60" y1="844.12" x2="675.00" y2="844.12" stroke="#8c8c8c" stroke-width="1" />
<line x1="59.50" y1="864.88" x2="119.30" y2="864.88" stroke="#8c8c8c" stroke-width="1" />
<line x1="261.60" y1="864.88" x2="675.00" y2="864.88" stroke="#8c8c8c" stroke-width="1" />
<line x1="59.50" y1="885.64" x2="119.30" y2="885.64" stroke="#8c8c8c" stroke-width="1" />
<line x1="261.60" y1="885.64" x2="675.00" y2="885.64" stroke="#8c8c8c" stroke-width="1" />
<line x1="59.50" y1="906.40" x2="119.30" y2="906.40" stroke="#8c8c8c" stroke-width="1" />
<line x1="261.60" y1="906.40" x2="675.00" y2="906.40" stroke="#8c8c8c" stroke-width="1" />
<line x1="59.50" y1="927.16" x2="119.30" y2="927.16" stroke="#8c8c8c" stroke-width="1" />
<line x1="261.60" y1="927.16" x2="675.00" y2="927.16" stroke="#8c8c8c" stroke-width="1" />
<line x1="689.00" y1="615.76" x2="910.00" y2="615.76" stroke="#8c8c8c" stroke-width="1" />
<line x1="689.00" y1="636.52" x2="910.00" y2="636.52" stroke="#8c8c8c" stroke-width="1" />
<line x1="689.00" y1="657.28" x2="910.00" y2="657.28" stroke="#8c8c8c" stroke-width="1" />
<line x1="689.00" y1="678.04" x2="910.00" y2="678.04" stroke="#8c8c8c" stroke-width="1" />
<line x1="689.00" y1="698.80" x2="910.00" y2="698.80" stroke="#8c8c8c" stroke-width="1" />
<line x1="689.00" y1="719.56" x2="910.00" y2="719.56" stroke="#8c8c8c" stroke-width="1" />
<line x1="689.00" y1="740.32" x2="910.00" y2="740.32" stroke="#8c8c8c" stroke-width="1" />
<line x1="689.00" y1="761.08" x2="910.00" y2="761.08" stroke="#8c8c8c" stroke-width="1" />
<line x1="689.00" y1="781.84" x2="910.00" y2="781.84" stroke="#8c8c8c" stroke-width="1" />
<line x1="689.00" y1="802.60" x2="910.00" y2="802.60" stroke="#8c8c8c" stroke-width="1" />
<line x1="689.00" y1="823.36" x2="910.00" y2="823.36" stroke="#8c8c8c" stroke-width="1" />
<line x1="689.00" y1="844.12" x2="910.00" y2="844.12" stroke="#8c8c8c" stroke-width="1" />
<line x1="689.00" y1="864.88" x2="910.00" y2="864.88" stroke="#8c8c8c" stroke-width="1" />
<line x1="689.00" y1="885.64" x2="910.00" y2="885.64" stroke="#8c8c8c" stroke-width="1" />
<line x1="689.00" y1="906.40" x2="910.00" y2="906.40" stroke="#8c8c8c" stroke-width="1" />
<line x1="689.00" y1="927.16" x2="910.00" y2="927.16" stroke="#8c8c8c" stroke-width="1" />
<line x1="689.00" y1="947.92" x2="910.00" y2="947.92" stroke="#8c8c8c" stroke-width="1" />
<line x1="689.00" y1="968.68" x2="910.00" y2="968.68" stroke="#8c8c8c" stroke-width="1" />
<line x1="689.00" y1="989.44" x2="910.00" y2="989.44" stroke="#8c8c8c" stroke-width="1" />
<line x1="689.00" y1="1010.20" x2="910.00" y2="1010.20" stroke="#8c8c8c" stroke-width="1" />
<line x1="689.00" y1="1030.96" x2="910.00" y2="1030.96" stroke="#8c8c8c" stroke-width="1" />
<line x1="0.00" y1="533.80" x2="675.00" y2="533.80" stroke="#505050" stroke-width="1.5" />
<line x1="0.00" y1="594.80" x2="675.00" y2="594.80" stroke="#505050" stroke-width="1.6" />
<line x1="0.00" y1="947.92" x2="675.00" y2="947.92" stroke="#505050" stroke-width="1.6" />
<line x1="689.00" y1="533.80" x2="910.00" y2="533.80" stroke="#505050" stroke-width="1.5" />
<line x1="689.00" y1="594.80" x2="910.00" y2="594.80" stroke="#505050" stroke-width="1.6" />
<line x1="689.00" y1="1051.72" x2="910.00" y2="1051.72" stroke="#505050" stroke-width="1.6" />
<circle cx="10.75" cy="564.70" r="6.2" fill="#ee6a2c"/>
<text x="10.75" y="568.50" font-size="10.5" fill="#fff" text-anchor="middle">1</text>
<text x="17.55" y="569.00" font-size="12.5" fill="#262626" text-anchor="start" textLength="37.50" lengthAdjust="spacingAndGlyphs" >类型码</text>
<circle cx="76.60" cy="564.70" r="6.2" fill="#ee6a2c"/>
<text x="76.60" y="568.50" font-size="10.5" fill="#fff" text-anchor="middle">2</text>
<text x="83.40" y="569.00" font-size="12.5" fill="#262626" text-anchor="start" textLength="25.00" lengthAdjust="spacingAndGlyphs" >齿数</text>
<circle cx="141.30" cy="558.20" r="6.2" fill="#ee6a2c"/>
<text x="141.30" y="562.00" font-size="10.5" fill="#fff" text-anchor="middle">3</text>
<text x="148.10" y="562.50" font-size="12.5" fill="#262626" text-anchor="start" textLength="50.00" lengthAdjust="spacingAndGlyphs" >宽度代码</text>
<text x="141.60" y="576.50" font-size="12.5" fill="#262626" text-anchor="start" textLength="50.00" lengthAdjust="spacingAndGlyphs" >（公制）</text>
<circle cx="353.27" cy="544.20" r="6.2" fill="#ee6a2c"/>
<text x="353.27" y="548.00" font-size="10.5" fill="#fff" text-anchor="middle">4</text>
<text x="363.20" y="548.50" font-size="12.5" fill="#262626" text-anchor="middle" transform="matrix(0.88,0,0,1,43.58,0)" >D</text>
<text x="331.70" y="568.50" font-size="12.5" fill="#262626" text-anchor="start" textLength="50.00" lengthAdjust="spacingAndGlyphs" >宽度代码</text>
<text x="230.70 237.80 244.90" y="588.40" font-size="12.5" fill="#262626" text-anchor="middle" transform="matrix(0.88,0,0,1,28.54,0)" >150</text>
<text x="278.40 285.50 292.60" y="588.40" font-size="12.5" fill="#262626" text-anchor="middle" transform="matrix(0.88,0,0,1,34.26,0)" >200</text>
<text x="326.10 333.20 340.30" y="588.40" font-size="12.5" fill="#262626" text-anchor="middle" transform="matrix(0.88,0,0,1,39.98,0)" >250</text>
<text x="373.60 380.70 387.80" y="588.40" font-size="12.5" fill="#262626" text-anchor="middle" transform="matrix(0.88,0,0,1,45.68,0)" >300</text>
<text x="420.80 427.90 435.00" y="588.40" font-size="12.5" fill="#262626" text-anchor="middle" transform="matrix(0.88,0,0,1,51.35,0)" >400</text>
<text x="468.30 475.40 482.50" y="588.40" font-size="12.5" fill="#262626" text-anchor="middle" transform="matrix(0.88,0,0,1,57.05,0)" >500</text>
<text x="510.55 517.65 524.75 531.85" y="569.00" font-size="12.5" fill="#262626" text-anchor="middle" transform="matrix(0.88,0,0,1,62.54,0)" >P.D.</text>
<text x="554.55 561.65 568.75 575.85" y="569.00" font-size="12.5" fill="#262626" text-anchor="middle" transform="matrix(0.88,0,0,1,67.82,0)" >O.D.</text>
<text x="609.50" y="569.00" font-size="12.5" fill="#262626" text-anchor="middle" transform="matrix(0.88,0,0,1,73.14,0)" >F</text>
<text x="653.30" y="569.00" font-size="12.5" fill="#262626" text-anchor="middle" transform="matrix(0.88,0,0,1,78.40,0)" >E</text>
<text x="695.67" y="569.00" font-size="12.5" fill="#262626" text-anchor="start" textLength="25.00" lengthAdjust="spacingAndGlyphs" >内孔</text>
<text x="723.80" y="569.00" font-size="12.5" fill="#262626" text-anchor="middle" transform="matrix(0.88,0,0,1,86.86,0)" >D</text>
<text x="755.60" y="569.00" font-size="12.5" fill="#262626" text-anchor="middle" transform="matrix(0.88,0,0,1,90.67,0)" >H</text>
<text x="799.50" y="569.00" font-size="12.5" fill="#262626" text-anchor="middle" transform="matrix(0.88,0,0,1,95.94,0)" >K</text>
<text x="831.00" y="555.00" font-size="12.5" fill="#262626" text-anchor="start" textLength="25.00" lengthAdjust="spacingAndGlyphs" >额定</text>
<text x="831.00" y="569.50" font-size="12.5" fill="#262626" text-anchor="start" textLength="25.00" lengthAdjust="spacingAndGlyphs" >扭矩</text>
<text x="818.50" y="584.50" font-size="12.5" fill="#262626" text-anchor="start" textLength="12.50" lengthAdjust="spacingAndGlyphs" >（</text>
<text x="834.12" y="584.50" font-size="12.5" fill="#262626" text-anchor="middle" transform="matrix(0.88,0,0,1,100.09,0)" >N</text>
<text x="837.25" y="584.50" font-size="12.5" fill="#262626" text-anchor="start" textLength="12.50" lengthAdjust="spacingAndGlyphs" >・</text>
<text x="852.88" y="584.50" font-size="12.5" fill="#262626" text-anchor="middle" transform="matrix(0.88,0,0,1,102.34,0)" >m</text>
<text x="856.00" y="584.50" font-size="12.5" fill="#262626" text-anchor="start" textLength="12.50" lengthAdjust="spacingAndGlyphs" >）</text>
<text x="875.30" y="562.50" font-size="12.5" fill="#262626" text-anchor="start" textLength="25.00" lengthAdjust="spacingAndGlyphs" >胀套</text>
<text x="875.30" y="577.50" font-size="12.5" fill="#262626" text-anchor="start" textLength="25.00" lengthAdjust="spacingAndGlyphs" >型号</text>
<text x="85.85 92.95" y="610.20" font-size="12.5" fill="#1e98d5" text-anchor="middle" transform="matrix(0.88,0,0,1,10.73,0)" >14</text>
<text x="225.30" y="610.20" font-size="12.5" fill="#1e98d5" text-anchor="middle" transform="matrix(0.88,0,0,1,27.04,0)" >8</text>
<text x="228.43" y="610.20" font-size="12.5" fill="#1e98d5" text-anchor="start" textLength="12.50" lengthAdjust="spacingAndGlyphs" >〜</text>
<text x="243.62 250.73" y="610.20" font-size="12.5" fill="#1e98d5" text-anchor="middle" transform="matrix(0.88,0,0,1,29.66,0)" >12</text>
<text x="273.00" y="610.20" font-size="12.5" fill="#1e98d5" text-anchor="middle" transform="matrix(0.88,0,0,1,32.76,0)" >8</text>
<text x="276.12" y="610.20" font-size="12.5" fill="#1e98d5" text-anchor="start" textLength="12.50" lengthAdjust="spacingAndGlyphs" >〜</text>
<text x="291.32 298.43" y="610.20" font-size="12.5" fill="#1e98d5" text-anchor="middle" transform="matrix(0.88,0,0,1,35.38,0)" >14</text>
<text x="317.15 324.25" y="610.20" font-size="12.5" fill="#1e98d5" text-anchor="middle" transform="matrix(0.88,0,0,1,38.48,0)" >12</text>
<text x="326.95" y="610.20" font-size="12.5" fill="#1e98d5" text-anchor="start" textLength="12.50" lengthAdjust="spacingAndGlyphs" >〜</text>
<text x="342.15 349.25" y="610.20" font-size="12.5" fill="#1e98d5" text-anchor="middle" transform="matrix(0.88,0,0,1,41.48,0)" >14</text>
<text x="377.15 384.25" y="610.20" font-size="12.5" fill="#1e98d5" text-anchor="middle" transform="matrix(0.88,0,0,1,45.68,0)" >14</text>
<text x="424.35 431.45" y="610.20" font-size="12.5" fill="#1e98d5" text-anchor="middle" transform="matrix(0.88,0,0,1,51.35,0)" >14</text>
<text x="471.85 478.95" y="610.20" font-size="12.5" fill="#1e98d5" text-anchor="middle" transform="matrix(0.88,0,0,1,57.05,0)" >14</text>
<text x="507.00 514.10 521.20 528.30 535.40" y="610.20" font-size="12.5" fill="#262626" text-anchor="middle" transform="matrix(0.88,0,0,1,62.54,0)" >44.56</text>
<text x="554.55 561.65 568.75 575.85" y="610.20" font-size="12.5" fill="#262626" text-anchor="middle" transform="matrix(0.88,0,0,1,67.82,0)" >42.7</text>
<text x="605.95 613.05" y="610.20" font-size="12.5" fill="#262626" text-anchor="middle" transform="matrix(0.88,0,0,1,73.14,0)" >48</text>
<text x="649.75 656.85" y="610.20" font-size="12.5" fill="#262626" text-anchor="middle" transform="matrix(0.88,0,0,1,78.40,0)" >35</text>
<text x="85.85 92.95" y="630.96" font-size="12.5" fill="#1e98d5" text-anchor="middle" transform="matrix(0.88,0,0,1,10.73,0)" >15</text>
<text x="225.30" y="630.96" font-size="12.5" fill="#1e98d5" text-anchor="middle" transform="matrix(0.88,0,0,1,27.04,0)" >8</text>
<text x="228.43" y="630.96" font-size="12.5" fill="#1e98d5" text-anchor="start" textLength="12.50" lengthAdjust="spacingAndGlyphs" >〜</text>
<text x="243.62 250.73" y="630.96" font-size="12.5" fill="#1e98d5" text-anchor="middle" transform="matrix(0.88,0,0,1,29.66,0)" >12</text>
<text x="273.00" y="630.96" font-size="12.5" fill="#1e98d5" text-anchor="middle" transform="matrix(0.88,0,0,1,32.76,0)" >8</text>
<text x="276.12" y="630.96" font-size="12.5" fill="#1e98d5" text-anchor="start" textLength="12.50" lengthAdjust="spacingAndGlyphs" >〜</text>
<text x="291.32 298.43" y="630.96" font-size="12.5" fill="#1e98d5" text-anchor="middle" transform="matrix(0.88,0,0,1,35.38,0)" >14</text>
<text x="317.15 324.25" y="630.96" font-size="12.5" fill="#1e98d5" text-anchor="middle" transform="matrix(0.88,0,0,1,38.48,0)" >12</text>
<text x="326.95" y="630.96" font-size="12.5" fill="#1e98d5" text-anchor="start" textLength="12.50" lengthAdjust="spacingAndGlyphs" >〜</text>
<text x="342.15 349.25" y="630.96" font-size="12.5" fill="#1e98d5" text-anchor="middle" transform="matrix(0.88,0,0,1,41.48,0)" >14</text>
<text x="377.15 384.25" y="630.96" font-size="12.5" fill="#1e98d5" text-anchor="middle" transform="matrix(0.88,0,0,1,45.68,0)" >14</text>
<text x="424.35 431.45" y="630.96" font-size="12.5" fill="#1e98d5" text-anchor="middle" transform="matrix(0.88,0,0,1,51.35,0)" >14</text>
<text x="471.85 478.95" y="630.96" font-size="12.5" fill="#1e98d5" text-anchor="middle" transform="matrix(0.88,0,0,1,57.05,0)" >14</text>
<text x="507.00 514.10 521.20 528.30 535.40" y="630.96" font-size="12.5" fill="#262626" text-anchor="middle" transform="matrix(0.88,0,0,1,62.54,0)" >47.75</text>
<text x="554.55 561.65 568.75 575.85" y="630.96" font-size="12.5" fill="#262626" text-anchor="middle" transform="matrix(0.88,0,0,1,67.82,0)" >45.9</text>
<text x="605.95 613.05" y="630.96" font-size="12.5" fill="#262626" text-anchor="middle" transform="matrix(0.88,0,0,1,73.14,0)" >52</text>
<text x="649.75 656.85" y="630.96" font-size="12.5" fill="#262626" text-anchor="middle" transform="matrix(0.88,0,0,1,78.40,0)" >36</text>
<text x="85.85 92.95" y="651.72" font-size="12.5" fill="#1e98d5" text-anchor="middle" transform="matrix(0.88,0,0,1,10.73,0)" >16</text>
<text x="225.30" y="651.72" font-size="12.5" fill="#1e98d5" text-anchor="middle" transform="matrix(0.88,0,0,1,27.04,0)" >8</text>
<text x="228.43" y="651.72" font-size="12.5" fill="#1e98d5" text-anchor="start" textLength="12.50" lengthAdjust="spacingAndGlyphs" >〜</text>
<text x="243.62 250.73" y="651.72" font-size="12.5" fill="#1e98d5" text-anchor="middle" transform="matrix(0.88,0,0,1,29.66,0)" >12</text>
<text x="273.00" y="651.72" font-size="12.5" fill="#1e98d5" text-anchor="middle" transform="matrix(0.88,0,0,1,32.76,0)" >8</text>
<text x="276.12" y="651.72" font-size="12.5" fill="#1e98d5" text-anchor="start" textLength="12.50" lengthAdjust="spacingAndGlyphs" >〜</text>
<text x="291.32 298.43" y="651.72" font-size="12.5" fill="#1e98d5" text-anchor="middle" transform="matrix(0.88,0,0,1,35.38,0)" >16</text>
<text x="317.15 324.25" y="651.72" font-size="12.5" fill="#1e98d5" text-anchor="middle" transform="matrix(0.88,0,0,1,38.48,0)" >12</text>
<text x="326.95" y="651.72" font-size="12.5" fill="#1e98d5" text-anchor="start" textLength="12.50" lengthAdjust="spacingAndGlyphs" >〜</text>
<text x="342.15 349.25" y="651.72" font-size="12.5" fill="#1e98d5" text-anchor="middle" transform="matrix(0.88,0,0,1,41.48,0)" >16</text>
<text x="364.65 371.75" y="651.72" font-size="12.5" fill="#1e98d5" text-anchor="middle" transform="matrix(0.88,0,0,1,44.18,0)" >14</text>
<text x="374.45" y="651.72" font-size="12.5" fill="#1e98d5" text-anchor="start" textLength="12.50" lengthAdjust="spacingAndGlyphs" >〜</text>
<text x="389.65 396.75" y="651.72" font-size="12.5" fill="#1e98d5" text-anchor="middle" transform="matrix(0.88,0,0,1,47.18,0)" >16</text>
<text x="411.85 418.95" y="651.72" font-size="12.5" fill="#1e98d5" text-anchor="middle" transform="matrix(0.88,0,0,1,49.85,0)" >14</text>
<text x="421.65" y="651.72" font-size="12.5" fill="#1e98d5" text-anchor="start" textLength="12.50" lengthAdjust="spacingAndGlyphs" >〜</text>
<text x="436.85 443.95" y="651.72" font-size="12.5" fill="#1e98d5" text-anchor="middle" transform="matrix(0.88,0,0,1,52.85,0)" >16</text>
<text x="459.35 466.45" y="651.72" font-size="12.5" fill="#1e98d5" text-anchor="middle" transform="matrix(0.88,0,0,1,55.55,0)" >14</text>
<text x="469.15" y="651.72" font-size="12.5" fill="#1e98d5" text-anchor="start" textLength="12.50" lengthAdjust="spacingAndGlyphs" >〜</text>
<text x="484.35 491.45" y="651.72" font-size="12.5" fill="#1e98d5" text-anchor="middle" transform="matrix(0.88,0,0,1,58.55,0)" >16</text>
<text x="507.00 514.10 521.20 528.30 535.40" y="651.72" font-size="12.5" fill="#262626" text-anchor="middle" transform="matrix(0.88,0,0,1,62.54,0)" >50.93</text>
<text x="551.00 558.10 565.20 572.30 579.40" y="651.72" font-size="12.5" fill="#262626" text-anchor="middle" transform="matrix(0.88,0,0,1,67.82,0)" >49.05</text>
<text x="605.95 613.05" y="651.72" font-size="12.5" fill="#262626" text-anchor="middle" transform="matrix(0.88,0,0,1,73.14,0)" >58</text>
<text x="649.75 656.85" y="651.72" font-size="12.5" fill="#262626" text-anchor="middle" transform="matrix(0.88,0,0,1,78.40,0)" >40</text>
<text x="85.85 92.95" y="672.48" font-size="12.5" fill="#1e98d5" text-anchor="middle" transform="matrix(0.88,0,0,1,10.73,0)" >18</text>
<text x="225.30" y="672.48" font-size="12.5" fill="#1e98d5" text-anchor="middle" transform="matrix(0.88,0,0,1,27.04,0)" >8</text>
<text x="228.43" y="672.48" font-size="12.5" fill="#1e98d5" text-anchor="start" textLength="12.50" lengthAdjust="spacingAndGlyphs" >〜</text>
<text x="243.62 250.73" y="672.48" font-size="12.5" fill="#1e98d5" text-anchor="middle" transform="matrix(0.88,0,0,1,29.66,0)" >12</text>
<text x="273.00" y="672.48" font-size="12.5" fill="#1e98d5" text-anchor="middle" transform="matrix(0.88,0,0,1,32.76,0)" >8</text>
<text x="276.12" y="672.48" font-size="12.5" fill="#1e98d5" text-anchor="start" textLength="12.50" lengthAdjust="spacingAndGlyphs" >〜</text>
<text x="291.32 298.43" y="672.48" font-size="12.5" fill="#1e98d5" text-anchor="middle" transform="matrix(0.88,0,0,1,35.38,0)" >16</text>
<text x="317.15 324.25" y="672.48" font-size="12.5" fill="#1e98d5" text-anchor="middle" transform="matrix(0.88,0,0,1,38.48,0)" >12</text>
<text x="326.95" y="672.48" font-size="12.5" fill="#1e98d5" text-anchor="start" textLength="12.50" lengthAdjust="spacingAndGlyphs" >〜</text>
<text x="342.15 349.25" y="672.48" font-size="12.5" fill="#1e98d5" text-anchor="middle" transform="matrix(0.88,0,0,1,41.48,0)" >16</text>
<text x="364.65 371.75" y="672.48" font-size="12.5" fill="#1e98d5" text-anchor="middle" transform="matrix(0.88,0,0,1,44.18,0)" >14</text>
<text x="374.45" y="672.48" font-size="12.5" fill="#1e98d5" text-anchor="start" textLength="12.50" lengthAdjust="spacingAndGlyphs" >〜</text>
<text x="389.65 396.75" y="672.48" font-size="12.5" fill="#1e98d5" text-anchor="middle" transform="matrix(0.88,0,0,1,47.18,0)" >16</text>
<text x="411.85 418.95" y="672.48" font-size="12.5" fill="#1e98d5" text-anchor="middle" transform="matrix(0.88,0,0,1,49.85,0)" >14</text>
<text x="421.65" y="672.48" font-size="12.5" fill="#1e98d5" text-anchor="start" textLength="12.50" lengthAdjust="spacingAndGlyphs" >〜</text>
<text x="436.85 443.95" y="672.48" font-size="12.5" fill="#1e98d5" text-anchor="middle" transform="matrix(0.88,0,0,1,52.85,0)" >16</text>
<text x="459.35 466.45" y="672.48" font-size="12.5" fill="#1e98d5" text-anchor="middle" transform="matrix(0.88,0,0,1,55.55,0)" >14</text>
<text x="469.15" y="672.48" font-size="12.5" fill="#1e98d5" text-anchor="start" textLength="12.50" lengthAdjust="spacingAndGlyphs" >〜</text>
<text x="484.35 491.45" y="672.48" font-size="12.5" fill="#1e98d5" text-anchor="middle" transform="matrix(0.88,0,0,1,58.55,0)" >16</text>
<text x="510.55 517.65 524.75 531.85" y="672.48" font-size="12.5" fill="#262626" text-anchor="middle" transform="matrix(0.88,0,0,1,62.54,0)" >57.3</text>
<text x="551.00 558.10 565.20 572.30 579.40" y="672.48" font-size="12.5" fill="#262626" text-anchor="middle" transform="matrix(0.88,0,0,1,67.82,0)" >55.45</text>
<text x="605.95 613.05" y="672.48" font-size="12.5" fill="#262626" text-anchor="middle" transform="matrix(0.88,0,0,1,73.14,0)" >61</text>
<text x="649.75 656.85" y="672.48" font-size="12.5" fill="#262626" text-anchor="middle" transform="matrix(0.88,0,0,1,78.40,0)" >45</text>
<text x="85.85 92.95" y="693.24" font-size="12.5" fill="#1e98d5" text-anchor="middle" transform="matrix(0.88,0,0,1,10.73,0)" >20</text>
<text x="225.30" y="693.24" font-size="12.5" fill="#1e98d5" text-anchor="middle" transform="matrix(0.88,0,0,1,27.04,0)" >8</text>
<text x="228.43" y="693.24" font-size="12.5" fill="#1e98d5" text-anchor="start" textLength="12.50" lengthAdjust="spacingAndGlyphs" >〜</text>
<text x="243.62 250.73" y="693.24" font-size="12.5" fill="#1e98d5" text-anchor="middle" transform="matrix(0.88,0,0,1,29.66,0)" >12</text>
<text x="273.00" y="693.24" font-size="12.5" fill="#1e98d5" text-anchor="middle" transform="matrix(0.88,0,0,1,32.76,0)" >8</text>
<text x="276.12" y="693.24" font-size="12.5" fill="#1e98d5" text-anchor="start" textLength="12.50" lengthAdjust="spacingAndGlyphs" >〜</text>
<text x="291.32 298.43" y="693.24" font-size="12.5" fill="#1e98d5" text-anchor="middle" transform="matrix(0.88,0,0,1,35.38,0)" >16</text>
<text x="317.15 324.25" y="693.24" font-size="12.5" fill="#1e98d5" text-anchor="middle" transform="matrix(0.88,0,0,1,38.48,0)" >12</text>
<text x="326.95" y="693.24" font-size="12.5" fill="#1e98d5" text-anchor="start" textLength="12.50" lengthAdjust="spacingAndGlyphs" >〜</text>
<text x="342.15 349.25" y="693.24" font-size="12.5" fill="#1e98d5" text-anchor="middle" transform="matrix(0.88,0,0,1,41.48,0)" >19</text>
<text x="364.65 371.75" y="693.24" font-size="12.5" fill="#1e98d5" text-anchor="middle" transform="matrix(0.88,0,0,1,44.18,0)" >14</text>
<text x="374.45" y="693.24" font-size="12.5" fill="#1e98d5" text-anchor="start" textLength="12.50" lengthAdjust="spacingAndGlyphs" >〜</text>
<text x="389.65 396.75" y="693.24" font-size="12.5" fill="#1e98d5" text-anchor="middle" transform="matrix(0.88,0,0,1,47.18,0)" >19</text>
<text x="411.85 418.95" y="693.24" font-size="12.5" fill="#1e98d5" text-anchor="middle" transform="matrix(0.88,0,0,1,49.85,0)" >14</text>
<text x="421.65" y="693.24" font-size="12.5" fill="#1e98d5" text-anchor="start" textLength="12.50" lengthAdjust="spacingAndGlyphs" >〜</text>
<text x="436.85 443.95" y="693.24" font-size="12.5" fill="#1e98d5" text-anchor="middle" transform="matrix(0.88,0,0,1,52.85,0)" >19</text>
<text x="459.35 466.45" y="693.24" font-size="12.5" fill="#1e98d5" text-anchor="middle" transform="matrix(0.88,0,0,1,55.55,0)" >14</text>
<text x="469.15" y="693.24" font-size="12.5" fill="#1e98d5" text-anchor="start" textLength="12.50" lengthAdjust="spacingAndGlyphs" >〜</text>
<text x="484.35 491.45" y="693.24" font-size="12.5" fill="#1e98d5" text-anchor="middle" transform="matrix(0.88,0,0,1,58.55,0)" >19</text>
<text x="507.00 514.10 521.20 528.30 535.40" y="693.24" font-size="12.5" fill="#262626" text-anchor="middle" transform="matrix(0.88,0,0,1,62.54,0)" >63.66</text>
<text x="554.55 561.65 568.75 575.85" y="693.24" font-size="12.5" fill="#262626" text-anchor="middle" transform="matrix(0.88,0,0,1,67.82,0)" >61.8</text>
<text x="605.95 613.05" y="693.24" font-size="12.5" fill="#262626" text-anchor="middle" transform="matrix(0.88,0,0,1,73.14,0)" >67</text>
<text x="649.75 656.85" y="693.24" font-size="12.5" fill="#262626" text-anchor="middle" transform="matrix(0.88,0,0,1,78.40,0)" >50</text>
<text x="85.85 92.95" y="714.00" font-size="12.5" fill="#1e98d5" text-anchor="middle" transform="matrix(0.88,0,0,1,10.73,0)" >22</text>
<text x="221.75 228.85" y="714.00" font-size="12.5" fill="#1e98d5" text-anchor="middle" transform="matrix(0.88,0,0,1,27.04,0)" >10</text>
<text x="231.55" y="714.00" font-size="12.5" fill="#1e98d5" text-anchor="start" textLength="12.50" lengthAdjust="spacingAndGlyphs" >〜</text>
<text x="246.75 253.85" y="714.00" font-size="12.5" fill="#1e98d5" text-anchor="middle" transform="matrix(0.88,0,0,1,30.04,0)" >12</text>
<text x="269.45 276.55" y="714.00" font-size="12.5" fill="#1e98d5" text-anchor="middle" transform="matrix(0.88,0,0,1,32.76,0)" >10</text>
<text x="279.25" y="714.00" font-size="12.5" fill="#1e98d5" text-anchor="start" textLength="12.50" lengthAdjust="spacingAndGlyphs" >〜</text>
<text x="294.45 301.55" y="714.00" font-size="12.5" fill="#1e98d5" text-anchor="middle" transform="matrix(0.88,0,0,1,35.76,0)" >16</text>
<text x="317.15 324.25" y="714.00" font-size="12.5" fill="#1e98d5" text-anchor="middle" transform="matrix(0.88,0,0,1,38.48,0)" >12</text>
<text x="326.95" y="714.00" font-size="12.5" fill="#1e98d5" text-anchor="start" textLength="12.50" lengthAdjust="spacingAndGlyphs" >〜</text>
<text x="342.15 349.25" y="714.00" font-size="12.5" fill="#1e98d5" text-anchor="middle" transform="matrix(0.88,0,0,1,41.48,0)" >22</text>
<text x="364.65 371.75" y="714.00" font-size="12.5" fill="#1e98d5" text-anchor="middle" transform="matrix(0.88,0,0,1,44.18,0)" >14</text>
<text x="374.45" y="714.00" font-size="12.5" fill="#1e98d5" text-anchor="start" textLength="12.50" lengthAdjust="spacingAndGlyphs" >〜</text>
<text x="389.65 396.75" y="714.00" font-size="12.5" fill="#1e98d5" text-anchor="middle" transform="matrix(0.88,0,0,1,47.18,0)" >22</text>
<text x="411.85 418.95" y="714.00" font-size="12.5" fill="#1e98d5" text-anchor="middle" transform="matrix(0.88,0,0,1,49.85,0)" >14</text>
<text x="421.65" y="714.00" font-size="12.5" fill="#1e98d5" text-anchor="start" textLength="12.50" lengthAdjust="spacingAndGlyphs" >〜</text>
<text x="436.85 443.95" y="714.00" font-size="12.5" fill="#1e98d5" text-anchor="middle" transform="matrix(0.88,0,0,1,52.85,0)" >22</text>
<text x="459.35 466.45" y="714.00" font-size="12.5" fill="#1e98d5" text-anchor="middle" transform="matrix(0.88,0,0,1,55.55,0)" >14</text>
<text x="469.15" y="714.00" font-size="12.5" fill="#1e98d5" text-anchor="start" textLength="12.50" lengthAdjust="spacingAndGlyphs" >〜</text>
<text x="484.35 491.45" y="714.00" font-size="12.5" fill="#1e98d5" text-anchor="middle" transform="matrix(0.88,0,0,1,58.55,0)" >22</text>
<text x="507.00 514.10 521.20 528.30 535.40" y="714.00" font-size="12.5" fill="#262626" text-anchor="middle" transform="matrix(0.88,0,0,1,62.54,0)" >70.03</text>
<text x="551.00 558.10 565.20 572.30 579.40" y="714.00" font-size="12.5" fill="#262626" text-anchor="middle" transform="matrix(0.88,0,0,1,67.82,0)" >68.15</text>
<text x="605.95 613.05" y="714.00" font-size="12.5" fill="#262626" text-anchor="middle" transform="matrix(0.88,0,0,1,73.14,0)" >80</text>
<text x="649.75 656.85" y="714.00" font-size="12.5" fill="#262626" text-anchor="middle" transform="matrix(0.88,0,0,1,78.40,0)" >60</text>
<text x="85.85 92.95" y="734.76" font-size="12.5" fill="#1e98d5" text-anchor="middle" transform="matrix(0.88,0,0,1,10.73,0)" >24</text>
<text x="221.75 228.85" y="734.76" font-size="12.5" fill="#1e98d5" text-anchor="middle" transform="matrix(0.88,0,0,1,27.04,0)" >10</text>
<text x="231.55" y="734.76" font-size="12.5" fill="#1e98d5" text-anchor="start" textLength="12.50" lengthAdjust="spacingAndGlyphs" >〜</text>
<text x="246.75 253.85" y="734.76" font-size="12.5" fill="#1e98d5" text-anchor="middle" transform="matrix(0.88,0,0,1,30.04,0)" >12</text>
<text x="269.45 276.55" y="734.76" font-size="12.5" fill="#1e98d5" text-anchor="middle" transform="matrix(0.88,0,0,1,32.76,0)" >10</text>
<text x="279.25" y="734.76" font-size="12.5" fill="#1e98d5" text-anchor="start" textLength="12.50" lengthAdjust="spacingAndGlyphs" >〜</text>
<text x="294.45 301.55" y="734.76" font-size="12.5" fill="#1e98d5" text-anchor="middle" transform="matrix(0.88,0,0,1,35.76,0)" >16</text>
<text x="317.15 324.25" y="734.76" font-size="12.5" fill="#1e98d5" text-anchor="middle" transform="matrix(0.88,0,0,1,38.48,0)" >12</text>
<text x="326.95" y="734.76" font-size="12.5" fill="#1e98d5" text-anchor="start" textLength="12.50" lengthAdjust="spacingAndGlyphs" >〜</text>
<text x="342.15 349.25" y="734.76" font-size="12.5" fill="#1e98d5" text-anchor="middle" transform="matrix(0.88,0,0,1,41.48,0)" >28</text>
<text x="364.65 371.75" y="734.76" font-size="12.5" fill="#1e98d5" text-anchor="middle" transform="matrix(0.88,0,0,1,44.18,0)" >14</text>
<text x="374.45" y="734.76" font-size="12.5" fill="#1e98d5" text-anchor="start" textLength="12.50" lengthAdjust="spacingAndGlyphs" >〜</text>
<text x="389.65 396.75" y="734.76" font-size="12.5" fill="#1e98d5" text-anchor="middle" transform="matrix(0.88,0,0,1,47.18,0)" >28</text>
<text x="411.85 418.95" y="734.76" font-size="12.5" fill="#1e98d5" text-anchor="middle" transform="matrix(0.88,0,0,1,49.85,0)" >14</text>
<text x="421.65" y="734.76" font-size="12.5" fill="#1e98d5" text-anchor="start" textLength="12.50" lengthAdjust="spacingAndGlyphs" >〜</text>
<text x="436.85 443.95" y="734.76" font-size="12.5" fill="#1e98d5" text-anchor="middle" transform="matrix(0.88,0,0,1,52.85,0)" >28</text>
<text x="459.35 466.45" y="734.76" font-size="12.5" fill="#1e98d5" text-anchor="middle" transform="matrix(0.88,0,0,1,55.55,0)" >14</text>
<text x="469.15" y="734.76" font-size="12.5" fill="#1e98d5" text-anchor="start" textLength="12.50" lengthAdjust="spacingAndGlyphs" >〜</text>
<text x="484.35 491.45" y="734.76" font-size="12.5" fill="#1e98d5" text-anchor="middle" transform="matrix(0.88,0,0,1,58.55,0)" >28</text>
<text x="507.00 514.10 521.20 528.30 535.40" y="734.76" font-size="12.5" fill="#262626" text-anchor="middle" transform="matrix(0.88,0,0,1,62.54,0)" >76.39</text>
<text x="551.00 558.10 565.20 572.30 579.40" y="734.76" font-size="12.5" fill="#262626" text-anchor="middle" transform="matrix(0.88,0,0,1,67.82,0)" >74.55</text>
<text x="605.95 613.05" y="734.76" font-size="12.5" fill="#262626" text-anchor="middle" transform="matrix(0.88,0,0,1,73.14,0)" >87</text>
<text x="649.75 656.85" y="734.76" font-size="12.5" fill="#262626" text-anchor="middle" transform="matrix(0.88,0,0,1,78.40,0)" >67</text>
<text x="85.85 92.95" y="755.52" font-size="12.5" fill="#1e98d5" text-anchor="middle" transform="matrix(0.88,0,0,1,10.73,0)" >25</text>
<text x="221.75 228.85" y="755.52" font-size="12.5" fill="#1e98d5" text-anchor="middle" transform="matrix(0.88,0,0,1,27.04,0)" >10</text>
<text x="231.55" y="755.52" font-size="12.5" fill="#1e98d5" text-anchor="start" textLength="12.50" lengthAdjust="spacingAndGlyphs" >〜</text>
<text x="246.75 253.85" y="755.52" font-size="12.5" fill="#1e98d5" text-anchor="middle" transform="matrix(0.88,0,0,1,30.04,0)" >12</text>
<text x="269.45 276.55" y="755.52" font-size="12.5" fill="#1e98d5" text-anchor="middle" transform="matrix(0.88,0,0,1,32.76,0)" >10</text>
<text x="279.25" y="755.52" font-size="12.5" fill="#1e98d5" text-anchor="start" textLength="12.50" lengthAdjust="spacingAndGlyphs" >〜</text>
<text x="294.45 301.55" y="755.52" font-size="12.5" fill="#1e98d5" text-anchor="middle" transform="matrix(0.88,0,0,1,35.76,0)" >16</text>
<text x="317.15 324.25" y="755.52" font-size="12.5" fill="#1e98d5" text-anchor="middle" transform="matrix(0.88,0,0,1,38.48,0)" >12</text>
<text x="326.95" y="755.52" font-size="12.5" fill="#1e98d5" text-anchor="start" textLength="12.50" lengthAdjust="spacingAndGlyphs" >〜</text>
<text x="342.15 349.25" y="755.52" font-size="12.5" fill="#1e98d5" text-anchor="middle" transform="matrix(0.88,0,0,1,41.48,0)" >28</text>
<text x="364.65 371.75" y="755.52" font-size="12.5" fill="#1e98d5" text-anchor="middle" transform="matrix(0.88,0,0,1,44.18,0)" >14</text>
<text x="374.45" y="755.52" font-size="12.5" fill="#1e98d5" text-anchor="start" textLength="12.50" lengthAdjust="spacingAndGlyphs" >〜</text>
<text x="389.65 396.75" y="755.52" font-size="12.5" fill="#1e98d5" text-anchor="middle" transform="matrix(0.88,0,0,1,47.18,0)" >28</text>
<text x="411.85 418.95" y="755.52" font-size="12.5" fill="#1e98d5" text-anchor="middle" transform="matrix(0.88,0,0,1,49.85,0)" >14</text>
<text x="421.65" y="755.52" font-size="12.5" fill="#1e98d5" text-anchor="start" textLength="12.50" lengthAdjust="spacingAndGlyphs" >〜</text>
<text x="436.85 443.95" y="755.52" font-size="12.5" fill="#1e98d5" text-anchor="middle" transform="matrix(0.88,0,0,1,52.85,0)" >28</text>
<text x="459.35 466.45" y="755.52" font-size="12.5" fill="#1e98d5" text-anchor="middle" transform="matrix(0.88,0,0,1,55.55,0)" >14</text>
<text x="469.15" y="755.52" font-size="12.5" fill="#1e98d5" text-anchor="start" textLength="12.50" lengthAdjust="spacingAndGlyphs" >〜</text>
<text x="484.35 491.45" y="755.52" font-size="12.5" fill="#1e98d5" text-anchor="middle" transform="matrix(0.88,0,0,1,58.55,0)" >28</text>
<text x="507.00 514.10 521.20 528.30 535.40" y="755.52" font-size="12.5" fill="#262626" text-anchor="middle" transform="matrix(0.88,0,0,1,62.54,0)" >79.58</text>
<text x="554.55 561.65 568.75 575.85" y="755.52" font-size="12.5" fill="#262626" text-anchor="middle" transform="matrix(0.88,0,0,1,67.82,0)" >77.7</text>
<text x="605.95 613.05" y="755.52" font-size="12.5" fill="#262626" text-anchor="middle" transform="matrix(0.88,0,0,1,73.14,0)" >87</text>
<text x="649.75 656.85" y="755.52" font-size="12.5" fill="#262626" text-anchor="middle" transform="matrix(0.88,0,0,1,78.40,0)" >67</text>
<text x="85.85 92.95" y="776.28" font-size="12.5" fill="#1e98d5" text-anchor="middle" transform="matrix(0.88,0,0,1,10.73,0)" >26</text>
<text x="269.45 276.55" y="776.28" font-size="12.5" fill="#1e98d5" text-anchor="middle" transform="matrix(0.88,0,0,1,32.76,0)" >12</text>
<text x="279.25" y="776.28" font-size="12.5" fill="#1e98d5" text-anchor="start" textLength="12.50" lengthAdjust="spacingAndGlyphs" >〜</text>
<text x="294.45 301.55" y="776.28" font-size="12.5" fill="#1e98d5" text-anchor="middle" transform="matrix(0.88,0,0,1,35.76,0)" >16</text>
<text x="317.15 324.25" y="776.28" font-size="12.5" fill="#1e98d5" text-anchor="middle" transform="matrix(0.88,0,0,1,38.48,0)" >12</text>
<text x="326.95" y="776.28" font-size="12.5" fill="#1e98d5" text-anchor="start" textLength="12.50" lengthAdjust="spacingAndGlyphs" >〜</text>
<text x="342.15 349.25" y="776.28" font-size="12.5" fill="#1e98d5" text-anchor="middle" transform="matrix(0.88,0,0,1,41.48,0)" >28</text>
<text x="364.65 371.75" y="776.28" font-size="12.5" fill="#1e98d5" text-anchor="middle" transform="matrix(0.88,0,0,1,44.18,0)" >14</text>
<text x="374.45" y="776.28" font-size="12.5" fill="#1e98d5" text-anchor="start" textLength="12.50" lengthAdjust="spacingAndGlyphs" >〜</text>
<text x="389.65 396.75" y="776.28" font-size="12.5" fill="#1e98d5" text-anchor="middle" transform="matrix(0.88,0,0,1,47.18,0)" >28</text>
<text x="411.85 418.95" y="776.28" font-size="12.5" fill="#1e98d5" text-anchor="middle" transform="matrix(0.88,0,0,1,49.85,0)" >14</text>
<text x="421.65" y="776.28" font-size="12.5" fill="#1e98d5" text-anchor="start" textLength="12.50" lengthAdjust="spacingAndGlyphs" >〜</text>
<text x="436.85 443.95" y="776.28" font-size="12.5" fill="#1e98d5" text-anchor="middle" transform="matrix(0.88,0,0,1,52.85,0)" >28</text>
<text x="459.35 466.45" y="776.28" font-size="12.5" fill="#1e98d5" text-anchor="middle" transform="matrix(0.88,0,0,1,55.55,0)" >14</text>
<text x="469.15" y="776.28" font-size="12.5" fill="#1e98d5" text-anchor="start" textLength="12.50" lengthAdjust="spacingAndGlyphs" >〜</text>
<text x="484.35 491.45" y="776.28" font-size="12.5" fill="#1e98d5" text-anchor="middle" transform="matrix(0.88,0,0,1,58.55,0)" >28</text>
<text x="507.00 514.10 521.20 528.30 535.40" y="776.28" font-size="12.5" fill="#262626" text-anchor="middle" transform="matrix(0.88,0,0,1,62.54,0)" >82.76</text>
<text x="554.55 561.65 568.75 575.85" y="776.28" font-size="12.5" fill="#262626" text-anchor="middle" transform="matrix(0.88,0,0,1,67.82,0)" >80.9</text>
<text x="605.95 613.05" y="776.28" font-size="12.5" fill="#262626" text-anchor="middle" transform="matrix(0.88,0,0,1,73.14,0)" >87</text>
<text x="649.75 656.85" y="776.28" font-size="12.5" fill="#262626" text-anchor="middle" transform="matrix(0.88,0,0,1,78.40,0)" >67</text>
<text x="85.85 92.95" y="797.04" font-size="12.5" fill="#1e98d5" text-anchor="middle" transform="matrix(0.88,0,0,1,10.73,0)" >28</text>
<text x="269.45 276.55" y="797.04" font-size="12.5" fill="#1e98d5" text-anchor="middle" transform="matrix(0.88,0,0,1,32.76,0)" >12</text>
<text x="279.25" y="797.04" font-size="12.5" fill="#1e98d5" text-anchor="start" textLength="12.50" lengthAdjust="spacingAndGlyphs" >〜</text>
<text x="294.45 301.55" y="797.04" font-size="12.5" fill="#1e98d5" text-anchor="middle" transform="matrix(0.88,0,0,1,35.76,0)" >16</text>
<text x="317.15 324.25" y="797.04" font-size="12.5" fill="#1e98d5" text-anchor="middle" transform="matrix(0.88,0,0,1,38.48,0)" >12</text>
<text x="326.95" y="797.04" font-size="12.5" fill="#1e98d5" text-anchor="start" textLength="12.50" lengthAdjust="spacingAndGlyphs" >〜</text>
<text x="342.15 349.25" y="797.04" font-size="12.5" fill="#1e98d5" text-anchor="middle" transform="matrix(0.88,0,0,1,41.48,0)" >30</text>
<text x="364.65 371.75" y="797.04" font-size="12.5" fill="#1e98d5" text-anchor="middle" transform="matrix(0.88,0,0,1,44.18,0)" >14</text>
<text x="374.45" y="797.04" font-size="12.5" fill="#1e98d5" text-anchor="start" textLength="12.50" lengthAdjust="spacingAndGlyphs" >〜</text>
<text x="389.65 396.75" y="797.04" font-size="12.5" fill="#1e98d5" text-anchor="middle" transform="matrix(0.88,0,0,1,47.18,0)" >30</text>
<text x="411.85 418.95" y="797.04" font-size="12.5" fill="#1e98d5" text-anchor="middle" transform="matrix(0.88,0,0,1,49.85,0)" >14</text>
<text x="421.65" y="797.04" font-size="12.5" fill="#1e98d5" text-anchor="start" textLength="12.50" lengthAdjust="spacingAndGlyphs" >〜</text>
<text x="436.85 443.95" y="797.04" font-size="12.5" fill="#1e98d5" text-anchor="middle" transform="matrix(0.88,0,0,1,52.85,0)" >30</text>
<text x="459.35 466.45" y="797.04" font-size="12.5" fill="#1e98d5" text-anchor="middle" transform="matrix(0.88,0,0,1,55.55,0)" >14</text>
<text x="469.15" y="797.04" font-size="12.5" fill="#1e98d5" text-anchor="start" textLength="12.50" lengthAdjust="spacingAndGlyphs" >〜</text>
<text x="484.35 491.45" y="797.04" font-size="12.5" fill="#1e98d5" text-anchor="middle" transform="matrix(0.88,0,0,1,58.55,0)" >30</text>
<text x="507.00 514.10 521.20 528.30 535.40" y="797.04" font-size="12.5" fill="#262626" text-anchor="middle" transform="matrix(0.88,0,0,1,62.54,0)" >89.13</text>
<text x="551.00 558.10 565.20 572.30 579.40" y="797.04" font-size="12.5" fill="#262626" text-anchor="middle" transform="matrix(0.88,0,0,1,67.82,0)" >87.25</text>
<text x="605.95 613.05" y="797.04" font-size="12.5" fill="#262626" text-anchor="middle" transform="matrix(0.88,0,0,1,73.14,0)" >95</text>
<text x="649.75 656.85" y="797.04" font-size="12.5" fill="#262626" text-anchor="middle" transform="matrix(0.88,0,0,1,78.40,0)" >75</text>
<text x="85.85 92.95" y="817.80" font-size="12.5" fill="#1e98d5" text-anchor="middle" transform="matrix(0.88,0,0,1,10.73,0)" >30</text>
<text x="269.45 276.55" y="817.80" font-size="12.5" fill="#1e98d5" text-anchor="middle" transform="matrix(0.88,0,0,1,32.76,0)" >12</text>
<text x="279.25" y="817.80" font-size="12.5" fill="#1e98d5" text-anchor="start" textLength="12.50" lengthAdjust="spacingAndGlyphs" >〜</text>
<text x="294.45 301.55" y="817.80" font-size="12.5" fill="#1e98d5" text-anchor="middle" transform="matrix(0.88,0,0,1,35.76,0)" >16</text>
<text x="317.15 324.25" y="817.80" font-size="12.5" fill="#1e98d5" text-anchor="middle" transform="matrix(0.88,0,0,1,38.48,0)" >12</text>
<text x="326.95" y="817.80" font-size="12.5" fill="#1e98d5" text-anchor="start" textLength="12.50" lengthAdjust="spacingAndGlyphs" >〜</text>
<text x="342.15 349.25" y="817.80" font-size="12.5" fill="#1e98d5" text-anchor="middle" transform="matrix(0.88,0,0,1,41.48,0)" >30</text>
<text x="364.65 371.75" y="817.80" font-size="12.5" fill="#1e98d5" text-anchor="middle" transform="matrix(0.88,0,0,1,44.18,0)" >14</text>
<text x="374.45" y="817.80" font-size="12.5" fill="#1e98d5" text-anchor="start" textLength="12.50" lengthAdjust="spacingAndGlyphs" >〜</text>
<text x="389.65 396.75" y="817.80" font-size="12.5" fill="#1e98d5" text-anchor="middle" transform="matrix(0.88,0,0,1,47.18,0)" >30</text>
<text x="411.85 418.95" y="817.80" font-size="12.5" fill="#1e98d5" text-anchor="middle" transform="matrix(0.88,0,0,1,49.85,0)" >14</text>
<text x="421.65" y="817.80" font-size="12.5" fill="#1e98d5" text-anchor="start" textLength="12.50" lengthAdjust="spacingAndGlyphs" >〜</text>
<text x="436.85 443.95" y="817.80" font-size="12.5" fill="#1e98d5" text-anchor="middle" transform="matrix(0.88,0,0,1,52.85,0)" >30</text>
<text x="459.35 466.45" y="817.80" font-size="12.5" fill="#1e98d5" text-anchor="middle" transform="matrix(0.88,0,0,1,55.55,0)" >14</text>
<text x="469.15" y="817.80" font-size="12.5" fill="#1e98d5" text-anchor="start" textLength="12.50" lengthAdjust="spacingAndGlyphs" >〜</text>
<text x="484.35 491.45" y="817.80" font-size="12.5" fill="#1e98d5" text-anchor="middle" transform="matrix(0.88,0,0,1,58.55,0)" >30</text>
<text x="507.00 514.10 521.20 528.30 535.40" y="817.80" font-size="12.5" fill="#262626" text-anchor="middle" transform="matrix(0.88,0,0,1,62.54,0)" >95.49</text>
<text x="551.00 558.10 565.20 572.30 579.40" y="817.80" font-size="12.5" fill="#262626" text-anchor="middle" transform="matrix(0.88,0,0,1,67.82,0)" >93.65</text>
<text x="602.40 609.50 616.60" y="817.80" font-size="12.5" fill="#262626" text-anchor="middle" transform="matrix(0.88,0,0,1,73.14,0)" >104</text>
<text x="649.75 656.85" y="817.80" font-size="12.5" fill="#262626" text-anchor="middle" transform="matrix(0.88,0,0,1,78.40,0)" >84</text>
<text x="85.85 92.95" y="838.56" font-size="12.5" fill="#1e98d5" text-anchor="middle" transform="matrix(0.88,0,0,1,10.73,0)" >32</text>
<text x="269.45 276.55" y="838.56" font-size="12.5" fill="#1e98d5" text-anchor="middle" transform="matrix(0.88,0,0,1,32.76,0)" >12</text>
<text x="279.25" y="838.56" font-size="12.5" fill="#1e98d5" text-anchor="start" textLength="12.50" lengthAdjust="spacingAndGlyphs" >〜</text>
<text x="294.45 301.55" y="838.56" font-size="12.5" fill="#1e98d5" text-anchor="middle" transform="matrix(0.88,0,0,1,35.76,0)" >16</text>
<text x="317.15 324.25" y="838.56" font-size="12.5" fill="#1e98d5" text-anchor="middle" transform="matrix(0.88,0,0,1,38.48,0)" >12</text>
<text x="326.95" y="838.56" font-size="12.5" fill="#1e98d5" text-anchor="start" textLength="12.50" lengthAdjust="spacingAndGlyphs" >〜</text>
<text x="342.15 349.25" y="838.56" font-size="12.5" fill="#1e98d5" text-anchor="middle" transform="matrix(0.88,0,0,1,41.48,0)" >30</text>
<text x="364.65 371.75" y="838.56" font-size="12.5" fill="#1e98d5" text-anchor="middle" transform="matrix(0.88,0,0,1,44.18,0)" >20</text>
<text x="374.45" y="838.56" font-size="12.5" fill="#1e98d5" text-anchor="start" textLength="12.50" lengthAdjust="spacingAndGlyphs" >〜</text>
<text x="389.65 396.75" y="838.56" font-size="12.5" fill="#1e98d5" text-anchor="middle" transform="matrix(0.88,0,0,1,47.18,0)" >30</text>
<text x="411.85 418.95" y="838.56" font-size="12.5" fill="#1e98d5" text-anchor="middle" transform="matrix(0.88,0,0,1,49.85,0)" >20</text>
<text x="421.65" y="838.56" font-size="12.5" fill="#1e98d5" text-anchor="start" textLength="12.50" lengthAdjust="spacingAndGlyphs" >〜</text>
<text x="436.85 443.95" y="838.56" font-size="12.5" fill="#1e98d5" text-anchor="middle" transform="matrix(0.88,0,0,1,52.85,0)" >30</text>
<text x="459.35 466.45" y="838.56" font-size="12.5" fill="#1e98d5" text-anchor="middle" transform="matrix(0.88,0,0,1,55.55,0)" >20</text>
<text x="469.15" y="838.56" font-size="12.5" fill="#1e98d5" text-anchor="start" textLength="12.50" lengthAdjust="spacingAndGlyphs" >〜</text>
<text x="484.35 491.45" y="838.56" font-size="12.5" fill="#1e98d5" text-anchor="middle" transform="matrix(0.88,0,0,1,58.55,0)" >30</text>
<text x="503.44 510.55 517.65 524.75 531.85 538.96" y="838.56" font-size="12.5" fill="#262626" text-anchor="middle" transform="matrix(0.88,0,0,1,62.54,0)" >101.86</text>
<text x="558.10 565.20 572.30" y="838.56" font-size="12.5" fill="#262626" text-anchor="middle" transform="matrix(0.88,0,0,1,67.82,0)" >100</text>
<text x="602.40 609.50 616.60" y="838.56" font-size="12.5" fill="#262626" text-anchor="middle" transform="matrix(0.88,0,0,1,73.14,0)" >111</text>
<text x="649.75 656.85" y="838.56" font-size="12.5" fill="#262626" text-anchor="middle" transform="matrix(0.88,0,0,1,78.40,0)" >90</text>
<text x="85.85 92.95" y="859.32" font-size="12.5" fill="#1e98d5" text-anchor="middle" transform="matrix(0.88,0,0,1,10.73,0)" >34</text>
<text x="269.45 276.55" y="859.32" font-size="12.5" fill="#1e98d5" text-anchor="middle" transform="matrix(0.88,0,0,1,32.76,0)" >12</text>
<text x="279.25" y="859.32" font-size="12.5" fill="#1e98d5" text-anchor="start" textLength="12.50" lengthAdjust="spacingAndGlyphs" >〜</text>
<text x="294.45 301.55" y="859.32" font-size="12.5" fill="#1e98d5" text-anchor="middle" transform="matrix(0.88,0,0,1,35.76,0)" >16</text>
<text x="317.15 324.25" y="859.32" font-size="12.5" fill="#1e98d5" text-anchor="middle" transform="matrix(0.88,0,0,1,38.48,0)" >12</text>
<text x="326.95" y="859.32" font-size="12.5" fill="#1e98d5" text-anchor="start" textLength="12.50" lengthAdjust="spacingAndGlyphs" >〜</text>
<text x="342.15 349.25" y="859.32" font-size="12.5" fill="#1e98d5" text-anchor="middle" transform="matrix(0.88,0,0,1,41.48,0)" >35</text>
<text x="364.65 371.75" y="859.32" font-size="12.5" fill="#1e98d5" text-anchor="middle" transform="matrix(0.88,0,0,1,44.18,0)" >20</text>
<text x="374.45" y="859.32" font-size="12.5" fill="#1e98d5" text-anchor="start" textLength="12.50" lengthAdjust="spacingAndGlyphs" >〜</text>
<text x="389.65 396.75" y="859.32" font-size="12.5" fill="#1e98d5" text-anchor="middle" transform="matrix(0.88,0,0,1,47.18,0)" >35</text>
<text x="411.85 418.95" y="859.32" font-size="12.5" fill="#1e98d5" text-anchor="middle" transform="matrix(0.88,0,0,1,49.85,0)" >20</text>
<text x="421.65" y="859.32" font-size="12.5" fill="#1e98d5" text-anchor="start" textLength="12.50" lengthAdjust="spacingAndGlyphs" >〜</text>
<text x="436.85 443.95" y="859.32" font-size="12.5" fill="#1e98d5" text-anchor="middle" transform="matrix(0.88,0,0,1,52.85,0)" >35</text>
<text x="459.35 466.45" y="859.32" font-size="12.5" fill="#1e98d5" text-anchor="middle" transform="matrix(0.88,0,0,1,55.55,0)" >20</text>
<text x="469.15" y="859.32" font-size="12.5" fill="#1e98d5" text-anchor="start" textLength="12.50" lengthAdjust="spacingAndGlyphs" >〜</text>
<text x="484.35 491.45" y="859.32" font-size="12.5" fill="#1e98d5" text-anchor="middle" transform="matrix(0.88,0,0,1,58.55,0)" >35</text>
<text x="503.44 510.55 517.65 524.75 531.85 538.96" y="859.32" font-size="12.5" fill="#262626" text-anchor="middle" transform="matrix(0.88,0,0,1,62.54,0)" >108.23</text>
<text x="551.00 558.10 565.20 572.30 579.40" y="859.32" font-size="12.5" fill="#262626" text-anchor="middle" transform="matrix(0.88,0,0,1,67.82,0)" >106.4</text>
<text x="602.40 609.50 616.60" y="859.32" font-size="12.5" fill="#262626" text-anchor="middle" transform="matrix(0.88,0,0,1,73.14,0)" >115</text>
<text x="649.75 656.85" y="859.32" font-size="12.5" fill="#262626" text-anchor="middle" transform="matrix(0.88,0,0,1,78.40,0)" >95</text>
<text x="85.85 92.95" y="880.08" font-size="12.5" fill="#1e98d5" text-anchor="middle" transform="matrix(0.88,0,0,1,10.73,0)" >36</text>
<text x="269.45 276.55" y="880.08" font-size="12.5" fill="#1e98d5" text-anchor="middle" transform="matrix(0.88,0,0,1,32.76,0)" >15</text>
<text x="279.25" y="880.08" font-size="12.5" fill="#1e98d5" text-anchor="start" textLength="12.50" lengthAdjust="spacingAndGlyphs" >〜</text>
<text x="294.45 301.55" y="880.08" font-size="12.5" fill="#1e98d5" text-anchor="middle" transform="matrix(0.88,0,0,1,35.76,0)" >16</text>
<text x="317.15 324.25" y="880.08" font-size="12.5" fill="#1e98d5" text-anchor="middle" transform="matrix(0.88,0,0,1,38.48,0)" >15</text>
<text x="326.95" y="880.08" font-size="12.5" fill="#1e98d5" text-anchor="start" textLength="12.50" lengthAdjust="spacingAndGlyphs" >〜</text>
<text x="342.15 349.25" y="880.08" font-size="12.5" fill="#1e98d5" text-anchor="middle" transform="matrix(0.88,0,0,1,41.48,0)" >40</text>
<text x="364.65 371.75" y="880.08" font-size="12.5" fill="#1e98d5" text-anchor="middle" transform="matrix(0.88,0,0,1,44.18,0)" >20</text>
<text x="374.45" y="880.08" font-size="12.5" fill="#1e98d5" text-anchor="start" textLength="12.50" lengthAdjust="spacingAndGlyphs" >〜</text>
<text x="389.65 396.75" y="880.08" font-size="12.5" fill="#1e98d5" text-anchor="middle" transform="matrix(0.88,0,0,1,47.18,0)" >40</text>
<text x="411.85 418.95" y="880.08" font-size="12.5" fill="#1e98d5" text-anchor="middle" transform="matrix(0.88,0,0,1,49.85,0)" >20</text>
<text x="421.65" y="880.08" font-size="12.5" fill="#1e98d5" text-anchor="start" textLength="12.50" lengthAdjust="spacingAndGlyphs" >〜</text>
<text x="436.85 443.95" y="880.08" font-size="12.5" fill="#1e98d5" text-anchor="middle" transform="matrix(0.88,0,0,1,52.85,0)" >40</text>
<text x="459.35 466.45" y="880.08" font-size="12.5" fill="#1e98d5" text-anchor="middle" transform="matrix(0.88,0,0,1,55.55,0)" >20</text>
<text x="469.15" y="880.08" font-size="12.5" fill="#1e98d5" text-anchor="start" textLength="12.50" lengthAdjust="spacingAndGlyphs" >〜</text>
<text x="484.35 491.45" y="880.08" font-size="12.5" fill="#1e98d5" text-anchor="middle" transform="matrix(0.88,0,0,1,58.55,0)" >40</text>
<text x="503.44 510.55 517.65 524.75 531.85 538.96" y="880.08" font-size="12.5" fill="#262626" text-anchor="middle" transform="matrix(0.88,0,0,1,62.54,0)" >114.59</text>
<text x="547.44 554.55 561.65 568.75 575.85 582.96" y="880.08" font-size="12.5" fill="#262626" text-anchor="middle" transform="matrix(0.88,0,0,1,67.82,0)" >112.75</text>
<text x="602.40 609.50 616.60" y="880.08" font-size="12.5" fill="#262626" text-anchor="middle" transform="matrix(0.88,0,0,1,73.14,0)" >123</text>
<text x="646.20 653.30 660.40" y="880.08" font-size="12.5" fill="#262626" text-anchor="middle" transform="matrix(0.88,0,0,1,78.40,0)" >102</text>
<text x="85.85 92.95" y="900.84" font-size="12.5" fill="#1e98d5" text-anchor="middle" transform="matrix(0.88,0,0,1,10.73,0)" >40</text>
<text x="269.45 276.55" y="900.84" font-size="12.5" fill="#1e98d5" text-anchor="middle" transform="matrix(0.88,0,0,1,32.76,0)" >15</text>
<text x="279.25" y="900.84" font-size="12.5" fill="#1e98d5" text-anchor="start" textLength="12.50" lengthAdjust="spacingAndGlyphs" >〜</text>
<text x="294.45 301.55" y="900.84" font-size="12.5" fill="#1e98d5" text-anchor="middle" transform="matrix(0.88,0,0,1,35.76,0)" >16</text>
<text x="317.15 324.25" y="900.84" font-size="12.5" fill="#1e98d5" text-anchor="middle" transform="matrix(0.88,0,0,1,38.48,0)" >15</text>
<text x="326.95" y="900.84" font-size="12.5" fill="#1e98d5" text-anchor="start" textLength="12.50" lengthAdjust="spacingAndGlyphs" >〜</text>
<text x="342.15 349.25" y="900.84" font-size="12.5" fill="#1e98d5" text-anchor="middle" transform="matrix(0.88,0,0,1,41.48,0)" >40</text>
<text x="364.65 371.75" y="900.84" font-size="12.5" fill="#1e98d5" text-anchor="middle" transform="matrix(0.88,0,0,1,44.18,0)" >20</text>
<text x="374.45" y="900.84" font-size="12.5" fill="#1e98d5" text-anchor="start" textLength="12.50" lengthAdjust="spacingAndGlyphs" >〜</text>
<text x="389.65 396.75" y="900.84" font-size="12.5" fill="#1e98d5" text-anchor="middle" transform="matrix(0.88,0,0,1,47.18,0)" >45</text>
<text x="411.85 418.95" y="900.84" font-size="12.5" fill="#1e98d5" text-anchor="middle" transform="matrix(0.88,0,0,1,49.85,0)" >20</text>
<text x="421.65" y="900.84" font-size="12.5" fill="#1e98d5" text-anchor="start" textLength="12.50" lengthAdjust="spacingAndGlyphs" >〜</text>
<text x="436.85 443.95" y="900.84" font-size="12.5" fill="#1e98d5" text-anchor="middle" transform="matrix(0.88,0,0,1,52.85,0)" >45</text>
<text x="459.35 466.45" y="900.84" font-size="12.5" fill="#1e98d5" text-anchor="middle" transform="matrix(0.88,0,0,1,55.55,0)" >20</text>
<text x="469.15" y="900.84" font-size="12.5" fill="#1e98d5" text-anchor="start" textLength="12.50" lengthAdjust="spacingAndGlyphs" >〜</text>
<text x="484.35 491.45" y="900.84" font-size="12.5" fill="#1e98d5" text-anchor="middle" transform="matrix(0.88,0,0,1,58.55,0)" >45</text>
<text x="503.44 510.55 517.65 524.75 531.85 538.96" y="900.84" font-size="12.5" fill="#262626" text-anchor="middle" transform="matrix(0.88,0,0,1,62.54,0)" >127.32</text>
<text x="547.44 554.55 561.65 568.75 575.85 582.96" y="900.84" font-size="12.5" fill="#262626" text-anchor="middle" transform="matrix(0.88,0,0,1,67.82,0)" >125.45</text>
<text x="602.40 609.50 616.60" y="900.84" font-size="12.5" fill="#262626" text-anchor="middle" transform="matrix(0.88,0,0,1,73.14,0)" >135</text>
<text x="646.20 653.30 660.40" y="900.84" font-size="12.5" fill="#262626" text-anchor="middle" transform="matrix(0.88,0,0,1,78.40,0)" >115</text>
<text x="85.85 92.95" y="921.60" font-size="12.5" fill="#1e98d5" text-anchor="middle" transform="matrix(0.88,0,0,1,10.73,0)" >44</text>
<text x="269.45 276.55" y="921.60" font-size="12.5" fill="#1e98d5" text-anchor="middle" transform="matrix(0.88,0,0,1,32.76,0)" >15</text>
<text x="279.25" y="921.60" font-size="12.5" fill="#1e98d5" text-anchor="start" textLength="12.50" lengthAdjust="spacingAndGlyphs" >〜</text>
<text x="294.45 301.55" y="921.60" font-size="12.5" fill="#1e98d5" text-anchor="middle" transform="matrix(0.88,0,0,1,35.76,0)" >16</text>
<text x="317.15 324.25" y="921.60" font-size="12.5" fill="#1e98d5" text-anchor="middle" transform="matrix(0.88,0,0,1,38.48,0)" >15</text>
<text x="326.95" y="921.60" font-size="12.5" fill="#1e98d5" text-anchor="start" textLength="12.50" lengthAdjust="spacingAndGlyphs" >〜</text>
<text x="342.15 349.25" y="921.60" font-size="12.5" fill="#1e98d5" text-anchor="middle" transform="matrix(0.88,0,0,1,41.48,0)" >40</text>
<text x="364.65 371.75" y="921.60" font-size="12.5" fill="#1e98d5" text-anchor="middle" transform="matrix(0.88,0,0,1,44.18,0)" >20</text>
<text x="374.45" y="921.60" font-size="12.5" fill="#1e98d5" text-anchor="start" textLength="12.50" lengthAdjust="spacingAndGlyphs" >〜</text>
<text x="389.65 396.75" y="921.60" font-size="12.5" fill="#1e98d5" text-anchor="middle" transform="matrix(0.88,0,0,1,47.18,0)" >50</text>
<text x="411.85 418.95" y="921.60" font-size="12.5" fill="#1e98d5" text-anchor="middle" transform="matrix(0.88,0,0,1,49.85,0)" >20</text>
<text x="421.65" y="921.60" font-size="12.5" fill="#1e98d5" text-anchor="start" textLength="12.50" lengthAdjust="spacingAndGlyphs" >〜</text>
<text x="436.85 443.95" y="921.60" font-size="12.5" fill="#1e98d5" text-anchor="middle" transform="matrix(0.88,0,0,1,52.85,0)" >50</text>
<text x="459.35 466.45" y="921.60" font-size="12.5" fill="#1e98d5" text-anchor="middle" transform="matrix(0.88,0,0,1,55.55,0)" >20</text>
<text x="469.15" y="921.60" font-size="12.5" fill="#1e98d5" text-anchor="start" textLength="12.50" lengthAdjust="spacingAndGlyphs" >〜</text>
<text x="484.35 491.45" y="921.60" font-size="12.5" fill="#1e98d5" text-anchor="middle" transform="matrix(0.88,0,0,1,58.55,0)" >50</text>
<text x="503.44 510.55 517.65 524.75 531.85 538.96" y="921.60" font-size="12.5" fill="#262626" text-anchor="middle" transform="matrix(0.88,0,0,1,62.54,0)" >140.06</text>
<text x="551.00 558.10 565.20 572.30 579.40" y="921.60" font-size="12.5" fill="#262626" text-anchor="middle" transform="matrix(0.88,0,0,1,67.82,0)" >138.2</text>
<text x="602.40 609.50 616.60" y="921.60" font-size="12.5" fill="#262626" text-anchor="middle" transform="matrix(0.88,0,0,1,73.14,0)" >152</text>
<text x="646.20 653.30 660.40" y="921.60" font-size="12.5" fill="#262626" text-anchor="middle" transform="matrix(0.88,0,0,1,78.40,0)" >130</text>
<text x="85.85 92.95" y="942.36" font-size="12.5" fill="#1e98d5" text-anchor="middle" transform="matrix(0.88,0,0,1,10.73,0)" >48</text>
<text x="269.45 276.55" y="942.36" font-size="12.5" fill="#1e98d5" text-anchor="middle" transform="matrix(0.88,0,0,1,32.76,0)" >15</text>
<text x="279.25" y="942.36" font-size="12.5" fill="#1e98d5" text-anchor="start" textLength="12.50" lengthAdjust="spacingAndGlyphs" >〜</text>
<text x="294.45 301.55" y="942.36" font-size="12.5" fill="#1e98d5" text-anchor="middle" transform="matrix(0.88,0,0,1,35.76,0)" >16</text>
<text x="317.15 324.25" y="942.36" font-size="12.5" fill="#1e98d5" text-anchor="middle" transform="matrix(0.88,0,0,1,38.48,0)" >15</text>
<text x="326.95" y="942.36" font-size="12.5" fill="#1e98d5" text-anchor="start" textLength="12.50" lengthAdjust="spacingAndGlyphs" >〜</text>
<text x="342.15 349.25" y="942.36" font-size="12.5" fill="#1e98d5" text-anchor="middle" transform="matrix(0.88,0,0,1,41.48,0)" >40</text>
<text x="364.65 371.75" y="942.36" font-size="12.5" fill="#1e98d5" text-anchor="middle" transform="matrix(0.88,0,0,1,44.18,0)" >20</text>
<text x="374.45" y="942.36" font-size="12.5" fill="#1e98d5" text-anchor="start" textLength="12.50" lengthAdjust="spacingAndGlyphs" >〜</text>
<text x="389.65 396.75" y="942.36" font-size="12.5" fill="#1e98d5" text-anchor="middle" transform="matrix(0.88,0,0,1,47.18,0)" >50</text>
<text x="411.85 418.95" y="942.36" font-size="12.5" fill="#1e98d5" text-anchor="middle" transform="matrix(0.88,0,0,1,49.85,0)" >20</text>
<text x="421.65" y="942.36" font-size="12.5" fill="#1e98d5" text-anchor="start" textLength="12.50" lengthAdjust="spacingAndGlyphs" >〜</text>
<text x="436.85 443.95" y="942.36" font-size="12.5" fill="#1e98d5" text-anchor="middle" transform="matrix(0.88,0,0,1,52.85,0)" >50</text>
<text x="459.35 466.45" y="942.36" font-size="12.5" fill="#1e98d5" text-anchor="middle" transform="matrix(0.88,0,0,1,55.55,0)" >20</text>
<text x="469.15" y="942.36" font-size="12.5" fill="#1e98d5" text-anchor="start" textLength="12.50" lengthAdjust="spacingAndGlyphs" >〜</text>
<text x="484.35 491.45" y="942.36" font-size="12.5" fill="#1e98d5" text-anchor="middle" transform="matrix(0.88,0,0,1,58.55,0)" >50</text>
<text x="503.44 510.55 517.65 524.75 531.85 538.96" y="942.36" font-size="12.5" fill="#262626" text-anchor="middle" transform="matrix(0.88,0,0,1,62.54,0)" >152.79</text>
<text x="547.44 554.55 561.65 568.75 575.85 582.96" y="942.36" font-size="12.5" fill="#262626" text-anchor="middle" transform="matrix(0.88,0,0,1,67.82,0)" >150.95</text>
<text x="602.40 609.50 616.60" y="942.36" font-size="12.5" fill="#262626" text-anchor="middle" transform="matrix(0.88,0,0,1,73.14,0)" >160</text>
<text x="646.20 653.30 660.40" y="942.36" font-size="12.5" fill="#262626" text-anchor="middle" transform="matrix(0.88,0,0,1,78.40,0)" >140</text>
<text x="237.80" y="858.32" font-size="12.5" fill="#1e98d5" text-anchor="middle" transform="matrix(0.88,0,0,1,28.54,0)" >–</text>
<text x="159.50 166.60 173.70" y="609.80" font-size="12.5" fill="#1e98d5" text-anchor="middle" transform="matrix(0.88,0,0,1,19.99,0)" >150</text>
<text x="155.95 163.05 170.15 177.25" y="624.94" font-size="12.5" fill="#262626" text-anchor="middle" transform="matrix(0.88,0,0,1,19.99,0)" >A=17</text>
<text x="126.47" y="640.78" font-size="12.5" fill="#262626" text-anchor="start" textLength="50.00" lengthAdjust="spacingAndGlyphs" >皮带宽度</text>
<text x="176.47" y="640.78" font-size="12.5" fill="#262626" textLength="6.25" lengthAdjust="spacingAndGlyphs">：</text>
<text x="185.42 192.53" y="640.78" font-size="12.5" fill="#262626" text-anchor="middle" transform="matrix(0.88,0,0,1,22.68,0)" >15</text>
<text x="195.38" y="640.78" font-size="12.5" fill="#262626" textLength="11.2" lengthAdjust="spacingAndGlyphs">mm</text>
<text x="159.50 166.60 173.70" y="670.36" font-size="12.5" fill="#1e98d5" text-anchor="middle" transform="matrix(0.88,0,0,1,19.99,0)" >200</text>
<text x="155.95 163.05 170.15 177.25" y="685.50" font-size="12.5" fill="#262626" text-anchor="middle" transform="matrix(0.88,0,0,1,19.99,0)" >A=22</text>
<text x="126.47" y="701.34" font-size="12.5" fill="#262626" text-anchor="start" textLength="50.00" lengthAdjust="spacingAndGlyphs" >皮带宽度</text>
<text x="176.47" y="701.34" font-size="12.5" fill="#262626" textLength="6.25" lengthAdjust="spacingAndGlyphs">：</text>
<text x="185.42 192.53" y="701.34" font-size="12.5" fill="#262626" text-anchor="middle" transform="matrix(0.88,0,0,1,22.68,0)" >20</text>
<text x="195.38" y="701.34" font-size="12.5" fill="#262626" textLength="11.2" lengthAdjust="spacingAndGlyphs">mm</text>
<text x="159.50 166.60 173.70" y="730.92" font-size="12.5" fill="#1e98d5" text-anchor="middle" transform="matrix(0.88,0,0,1,19.99,0)" >250</text>
<text x="155.95 163.05 170.15 177.25" y="746.06" font-size="12.5" fill="#262626" text-anchor="middle" transform="matrix(0.88,0,0,1,19.99,0)" >A=27</text>
<text x="126.47" y="761.90" font-size="12.5" fill="#262626" text-anchor="start" textLength="50.00" lengthAdjust="spacingAndGlyphs" >皮带宽度</text>
<text x="176.47" y="761.90" font-size="12.5" fill="#262626" textLength="6.25" lengthAdjust="spacingAndGlyphs">：</text>
<text x="185.42 192.53" y="761.90" font-size="12.5" fill="#262626" text-anchor="middle" transform="matrix(0.88,0,0,1,22.68,0)" >25</text>
<text x="195.38" y="761.90" font-size="12.5" fill="#262626" textLength="11.2" lengthAdjust="spacingAndGlyphs">mm</text>
<text x="159.50 166.60 173.70" y="791.48" font-size="12.5" fill="#1e98d5" text-anchor="middle" transform="matrix(0.88,0,0,1,19.99,0)" >300</text>
<text x="155.95 163.05 170.15 177.25" y="806.62" font-size="12.5" fill="#262626" text-anchor="middle" transform="matrix(0.88,0,0,1,19.99,0)" >A=32</text>
<text x="126.47" y="822.46" font-size="12.5" fill="#262626" text-anchor="start" textLength="50.00" lengthAdjust="spacingAndGlyphs" >皮带宽度</text>
<text x="176.47" y="822.46" font-size="12.5" fill="#262626" textLength="6.25" lengthAdjust="spacingAndGlyphs">：</text>
<text x="185.42 192.53" y="822.46" font-size="12.5" fill="#262626" text-anchor="middle" transform="matrix(0.88,0,0,1,22.68,0)" >30</text>
<text x="195.38" y="822.46" font-size="12.5" fill="#262626" textLength="11.2" lengthAdjust="spacingAndGlyphs">mm</text>
<text x="159.50 166.60 173.70" y="852.04" font-size="12.5" fill="#1e98d5" text-anchor="middle" transform="matrix(0.88,0,0,1,19.99,0)" >400</text>
<text x="155.95 163.05 170.15 177.25" y="867.18" font-size="12.5" fill="#262626" text-anchor="middle" transform="matrix(0.88,0,0,1,19.99,0)" >A=43</text>
<text x="126.47" y="883.02" font-size="12.5" fill="#262626" text-anchor="start" textLength="50.00" lengthAdjust="spacingAndGlyphs" >皮带宽度</text>
<text x="176.47" y="883.02" font-size="12.5" fill="#262626" textLength="6.25" lengthAdjust="spacingAndGlyphs">：</text>
<text x="185.42 192.53" y="883.02" font-size="12.5" fill="#262626" text-anchor="middle" transform="matrix(0.88,0,0,1,22.68,0)" >40</text>
<text x="195.38" y="883.02" font-size="12.5" fill="#262626" textLength="11.2" lengthAdjust="spacingAndGlyphs">mm</text>
<text x="159.50 166.60 173.70" y="912.60" font-size="12.5" fill="#1e98d5" text-anchor="middle" transform="matrix(0.88,0,0,1,19.99,0)" >500</text>
<text x="155.95 163.05 170.15 177.25" y="927.74" font-size="12.5" fill="#262626" text-anchor="middle" transform="matrix(0.88,0,0,1,19.99,0)" >A=53</text>
<text x="126.47" y="943.58" font-size="12.5" fill="#262626" text-anchor="start" textLength="50.00" lengthAdjust="spacingAndGlyphs" >皮带宽度</text>
<text x="176.47" y="943.58" font-size="12.5" fill="#262626" textLength="6.25" lengthAdjust="spacingAndGlyphs">：</text>
<text x="185.42 192.53" y="943.58" font-size="12.5" fill="#262626" text-anchor="middle" transform="matrix(0.88,0,0,1,22.68,0)" >50</text>
<text x="195.38" y="943.58" font-size="12.5" fill="#262626" textLength="11.2" lengthAdjust="spacingAndGlyphs">mm</text>
<text x="12.04 19.15 26.25 33.35 40.45 47.56" y="746.30" font-size="12.5" fill="#1e98d5" text-anchor="middle" transform="matrix(0.88,0,0,1,3.58,0)" >TAET10</text>
<text x="-1.45" y="761.50" font-size="12.5" fill="#262626" text-anchor="start" textLength="62.50" lengthAdjust="spacingAndGlyphs" >（铝合金）</text>
<text x="12.04 19.15 26.25 33.35 40.45 47.56" y="791.80" font-size="12.5" fill="#1e98d5" text-anchor="middle" transform="matrix(0.88,0,0,1,3.58,0)" >TSET10</text>
<text x="-1.45" y="807.00" font-size="12.5" fill="#262626" text-anchor="start" textLength="12.50" lengthAdjust="spacingAndGlyphs" >（</text>
<text x="13.75 20.85" y="807.00" font-size="12.5" fill="#262626" text-anchor="middle" transform="matrix(0.88,0,0,1,2.08,0)" >45</text>
<text x="23.55" y="807.00" font-size="12.5" fill="#262626" text-anchor="start" textLength="37.50" lengthAdjust="spacingAndGlyphs" >号钢）</text>
<text x="711.30" y="610.20" font-size="12.5" fill="#262626" text-anchor="middle" transform="matrix(0.88,0,0,1,85.36,0)" >8</text>
<text x="752.05 759.15" y="610.20" font-size="12.5" fill="#262626" text-anchor="middle" transform="matrix(0.88,0,0,1,90.67,0)" >18</text>
<text x="788.85 795.95 803.05 810.15" y="610.20" font-size="12.5" fill="#262626" text-anchor="middle" transform="matrix(0.88,0,0,1,95.94,0)" >13.5</text>
<text x="839.95 847.05" y="610.20" font-size="12.5" fill="#262626" text-anchor="middle" transform="matrix(0.88,0,0,1,101.22,0)" >12</text>
<text x="873.60 880.70 887.80 894.90 902.00" y="610.20" font-size="12.5" fill="#262626" text-anchor="middle" transform="matrix(0.88,0,0,1,106.54,0)" >BDC-8</text>
<text x="711.30" y="630.96" font-size="12.5" fill="#262626" text-anchor="middle" transform="matrix(0.88,0,0,1,85.36,0)" >9</text>
<text x="752.05 759.15" y="630.96" font-size="12.5" fill="#262626" text-anchor="middle" transform="matrix(0.88,0,0,1,90.67,0)" >20</text>
<text x="788.85 795.95 803.05 810.15" y="630.96" font-size="12.5" fill="#262626" text-anchor="middle" transform="matrix(0.88,0,0,1,95.94,0)" >15.5</text>
<text x="839.95 847.05" y="630.96" font-size="12.5" fill="#262626" text-anchor="middle" transform="matrix(0.88,0,0,1,101.22,0)" >17</text>
<text x="873.60 880.70 887.80 894.90 902.00" y="630.96" font-size="12.5" fill="#262626" text-anchor="middle" transform="matrix(0.88,0,0,1,106.54,0)" >BDC-9</text>
<text x="707.75 714.85" y="651.72" font-size="12.5" fill="#262626" text-anchor="middle" transform="matrix(0.88,0,0,1,85.36,0)" >10</text>
<text x="752.05 759.15" y="651.72" font-size="12.5" fill="#262626" text-anchor="middle" transform="matrix(0.88,0,0,1,90.67,0)" >20</text>
<text x="788.85 795.95 803.05 810.15" y="651.72" font-size="12.5" fill="#262626" text-anchor="middle" transform="matrix(0.88,0,0,1,95.94,0)" >15.5</text>
<text x="839.95 847.05" y="651.72" font-size="12.5" fill="#262626" text-anchor="middle" transform="matrix(0.88,0,0,1,101.22,0)" >19</text>
<text x="870.04 877.15 884.25 891.35 898.45 905.56" y="651.72" font-size="12.5" fill="#262626" text-anchor="middle" transform="matrix(0.88,0,0,1,106.54,0)" >BDC-10</text>
<text x="707.75 714.85" y="672.48" font-size="12.5" fill="#262626" text-anchor="middle" transform="matrix(0.88,0,0,1,85.36,0)" >11</text>
<text x="752.05 759.15" y="672.48" font-size="12.5" fill="#262626" text-anchor="middle" transform="matrix(0.88,0,0,1,90.67,0)" >22</text>
<text x="788.85 795.95 803.05 810.15" y="672.48" font-size="12.5" fill="#262626" text-anchor="middle" transform="matrix(0.88,0,0,1,95.94,0)" >15.5</text>
<text x="839.95 847.05" y="672.48" font-size="12.5" fill="#262626" text-anchor="middle" transform="matrix(0.88,0,0,1,101.22,0)" >21</text>
<text x="870.04 877.15 884.25 891.35 898.45 905.56" y="672.48" font-size="12.5" fill="#262626" text-anchor="middle" transform="matrix(0.88,0,0,1,106.54,0)" >BDC-11</text>
<text x="707.75 714.85" y="693.24" font-size="12.5" fill="#262626" text-anchor="middle" transform="matrix(0.88,0,0,1,85.36,0)" >12</text>
<text x="752.05 759.15" y="693.24" font-size="12.5" fill="#262626" text-anchor="middle" transform="matrix(0.88,0,0,1,90.67,0)" >22</text>
<text x="788.85 795.95 803.05 810.15" y="693.24" font-size="12.5" fill="#262626" text-anchor="middle" transform="matrix(0.88,0,0,1,95.94,0)" >15.5</text>
<text x="839.95 847.05" y="693.24" font-size="12.5" fill="#262626" text-anchor="middle" transform="matrix(0.88,0,0,1,101.22,0)" >24</text>
<text x="870.04 877.15 884.25 891.35 898.45 905.56" y="693.24" font-size="12.5" fill="#262626" text-anchor="middle" transform="matrix(0.88,0,0,1,106.54,0)" >BDC-12</text>
<text x="707.75 714.85" y="714.00" font-size="12.5" fill="#262626" text-anchor="middle" transform="matrix(0.88,0,0,1,85.36,0)" >14</text>
<text x="752.05 759.15" y="714.00" font-size="12.5" fill="#262626" text-anchor="middle" transform="matrix(0.88,0,0,1,90.67,0)" >26</text>
<text x="788.85 795.95 803.05 810.15" y="714.00" font-size="12.5" fill="#262626" text-anchor="middle" transform="matrix(0.88,0,0,1,95.94,0)" >20.0</text>
<text x="839.95 847.05" y="714.00" font-size="12.5" fill="#262626" text-anchor="middle" transform="matrix(0.88,0,0,1,101.22,0)" >40</text>
<text x="870.04 877.15 884.25 891.35 898.45 905.56" y="714.00" font-size="12.5" fill="#262626" text-anchor="middle" transform="matrix(0.88,0,0,1,106.54,0)" >BDC-14</text>
<text x="707.75 714.85" y="734.76" font-size="12.5" fill="#262626" text-anchor="middle" transform="matrix(0.88,0,0,1,85.36,0)" >15</text>
<text x="752.05 759.15" y="734.76" font-size="12.5" fill="#262626" text-anchor="middle" transform="matrix(0.88,0,0,1,90.67,0)" >28</text>
<text x="788.85 795.95 803.05 810.15" y="734.76" font-size="12.5" fill="#262626" text-anchor="middle" transform="matrix(0.88,0,0,1,95.94,0)" >20.0</text>
<text x="839.95 847.05" y="734.76" font-size="12.5" fill="#262626" text-anchor="middle" transform="matrix(0.88,0,0,1,101.22,0)" >44</text>
<text x="870.04 877.15 884.25 891.35 898.45 905.56" y="734.76" font-size="12.5" fill="#262626" text-anchor="middle" transform="matrix(0.88,0,0,1,106.54,0)" >BDC-15</text>
<text x="707.75 714.85" y="755.52" font-size="12.5" fill="#262626" text-anchor="middle" transform="matrix(0.88,0,0,1,85.36,0)" >16</text>
<text x="752.05 759.15" y="755.52" font-size="12.5" fill="#262626" text-anchor="middle" transform="matrix(0.88,0,0,1,90.67,0)" >32</text>
<text x="788.85 795.95 803.05 810.15" y="755.52" font-size="12.5" fill="#262626" text-anchor="middle" transform="matrix(0.88,0,0,1,95.94,0)" >21.0</text>
<text x="839.95 847.05" y="755.52" font-size="12.5" fill="#262626" text-anchor="middle" transform="matrix(0.88,0,0,1,101.22,0)" >86</text>
<text x="870.04 877.15 884.25 891.35 898.45 905.56" y="755.52" font-size="12.5" fill="#262626" text-anchor="middle" transform="matrix(0.88,0,0,1,106.54,0)" >BDC-16</text>
<text x="707.75 714.85" y="776.28" font-size="12.5" fill="#262626" text-anchor="middle" transform="matrix(0.88,0,0,1,85.36,0)" >17</text>
<text x="752.05 759.15" y="776.28" font-size="12.5" fill="#262626" text-anchor="middle" transform="matrix(0.88,0,0,1,90.67,0)" >35</text>
<text x="788.85 795.95 803.05 810.15" y="776.28" font-size="12.5" fill="#262626" text-anchor="middle" transform="matrix(0.88,0,0,1,95.94,0)" >25.0</text>
<text x="839.95 847.05" y="776.28" font-size="12.5" fill="#262626" text-anchor="middle" transform="matrix(0.88,0,0,1,101.22,0)" >88</text>
<text x="870.04 877.15 884.25 891.35 898.45 905.56" y="776.28" font-size="12.5" fill="#262626" text-anchor="middle" transform="matrix(0.88,0,0,1,106.54,0)" >BDC-17</text>
<text x="707.75 714.85" y="797.04" font-size="12.5" fill="#262626" text-anchor="middle" transform="matrix(0.88,0,0,1,85.36,0)" >18</text>
<text x="752.05 759.15" y="797.04" font-size="12.5" fill="#262626" text-anchor="middle" transform="matrix(0.88,0,0,1,90.67,0)" >35</text>
<text x="788.85 795.95 803.05 810.15" y="797.04" font-size="12.5" fill="#262626" text-anchor="middle" transform="matrix(0.88,0,0,1,95.94,0)" >25.0</text>
<text x="839.95 847.05" y="797.04" font-size="12.5" fill="#262626" text-anchor="middle" transform="matrix(0.88,0,0,1,101.22,0)" >94</text>
<text x="870.04 877.15 884.25 891.35 898.45 905.56" y="797.04" font-size="12.5" fill="#262626" text-anchor="middle" transform="matrix(0.88,0,0,1,106.54,0)" >BDC-18</text>
<text x="707.75 714.85" y="817.80" font-size="12.5" fill="#262626" text-anchor="middle" transform="matrix(0.88,0,0,1,85.36,0)" >19</text>
<text x="752.05 759.15" y="817.80" font-size="12.5" fill="#262626" text-anchor="middle" transform="matrix(0.88,0,0,1,90.67,0)" >35</text>
<text x="788.85 795.95 803.05 810.15" y="817.80" font-size="12.5" fill="#262626" text-anchor="middle" transform="matrix(0.88,0,0,1,95.94,0)" >25.0</text>
<text x="839.95 847.05" y="817.80" font-size="12.5" fill="#262626" text-anchor="middle" transform="matrix(0.88,0,0,1,101.22,0)" >99</text>
<text x="870.04 877.15 884.25 891.35 898.45 905.56" y="817.80" font-size="12.5" fill="#262626" text-anchor="middle" transform="matrix(0.88,0,0,1,106.54,0)" >BDC-19</text>
<text x="707.75 714.85" y="838.56" font-size="12.5" fill="#262626" text-anchor="middle" transform="matrix(0.88,0,0,1,85.36,0)" >20</text>
<text x="752.05 759.15" y="838.56" font-size="12.5" fill="#262626" text-anchor="middle" transform="matrix(0.88,0,0,1,90.67,0)" >47</text>
<text x="795.95 803.05" y="838.56" font-size="12.5" fill="#262626" text-anchor="middle" transform="matrix(0.88,0,0,1,95.94,0)" >26</text>
<text x="836.40 843.50 850.60" y="838.56" font-size="12.5" fill="#262626" text-anchor="middle" transform="matrix(0.88,0,0,1,101.22,0)" >290</text>
<text x="870.04 877.15 884.25 891.35 898.45 905.56" y="838.56" font-size="12.5" fill="#262626" text-anchor="middle" transform="matrix(0.88,0,0,1,106.54,0)" >BDD-20</text>
<text x="707.75 714.85" y="859.32" font-size="12.5" fill="#262626" text-anchor="middle" transform="matrix(0.88,0,0,1,85.36,0)" >22</text>
<text x="752.05 759.15" y="859.32" font-size="12.5" fill="#262626" text-anchor="middle" transform="matrix(0.88,0,0,1,90.67,0)" >47</text>
<text x="795.95 803.05" y="859.32" font-size="12.5" fill="#262626" text-anchor="middle" transform="matrix(0.88,0,0,1,95.94,0)" >26</text>
<text x="836.40 843.50 850.60" y="859.32" font-size="12.5" fill="#262626" text-anchor="middle" transform="matrix(0.88,0,0,1,101.22,0)" >290</text>
<text x="870.04 877.15 884.25 891.35 898.45 905.56" y="859.32" font-size="12.5" fill="#262626" text-anchor="middle" transform="matrix(0.88,0,0,1,106.54,0)" >BDD-22</text>
<text x="707.75 714.85" y="880.08" font-size="12.5" fill="#262626" text-anchor="middle" transform="matrix(0.88,0,0,1,85.36,0)" >25</text>
<text x="752.05 759.15" y="880.08" font-size="12.5" fill="#262626" text-anchor="middle" transform="matrix(0.88,0,0,1,90.67,0)" >50</text>
<text x="795.95 803.05" y="880.08" font-size="12.5" fill="#262626" text-anchor="middle" transform="matrix(0.88,0,0,1,95.94,0)" >26</text>
<text x="836.40 843.50 850.60" y="880.08" font-size="12.5" fill="#262626" text-anchor="middle" transform="matrix(0.88,0,0,1,101.22,0)" >400</text>
<text x="870.04 877.15 884.25 891.35 898.45 905.56" y="880.08" font-size="12.5" fill="#262626" text-anchor="middle" transform="matrix(0.88,0,0,1,106.54,0)" >BDD-25</text>
<text x="707.75 714.85" y="900.84" font-size="12.5" fill="#262626" text-anchor="middle" transform="matrix(0.88,0,0,1,85.36,0)" >28</text>
<text x="752.05 759.15" y="900.84" font-size="12.5" fill="#262626" text-anchor="middle" transform="matrix(0.88,0,0,1,90.67,0)" >55</text>
<text x="795.95 803.05" y="900.84" font-size="12.5" fill="#262626" text-anchor="middle" transform="matrix(0.88,0,0,1,95.94,0)" >26</text>
<text x="836.40 843.50 850.60" y="900.84" font-size="12.5" fill="#262626" text-anchor="middle" transform="matrix(0.88,0,0,1,101.22,0)" >520</text>
<text x="870.04 877.15 884.25 891.35 898.45 905.56" y="900.84" font-size="12.5" fill="#262626" text-anchor="middle" transform="matrix(0.88,0,0,1,106.54,0)" >BDD-28</text>
<text x="707.75 714.85" y="921.60" font-size="12.5" fill="#262626" text-anchor="middle" transform="matrix(0.88,0,0,1,85.36,0)" >30</text>
<text x="752.05 759.15" y="921.60" font-size="12.5" fill="#262626" text-anchor="middle" transform="matrix(0.88,0,0,1,90.67,0)" >55</text>
<text x="795.95 803.05" y="921.60" font-size="12.5" fill="#262626" text-anchor="middle" transform="matrix(0.88,0,0,1,95.94,0)" >26</text>
<text x="836.40 843.50 850.60" y="921.60" font-size="12.5" fill="#262626" text-anchor="middle" transform="matrix(0.88,0,0,1,101.22,0)" >520</text>
<text x="870.04 877.15 884.25 891.35 898.45 905.56" y="921.60" font-size="12.5" fill="#262626" text-anchor="middle" transform="matrix(0.88,0,0,1,106.54,0)" >BDD-30</text>
<text x="707.75 714.85" y="942.36" font-size="12.5" fill="#262626" text-anchor="middle" transform="matrix(0.88,0,0,1,85.36,0)" >35</text>
<text x="752.05 759.15" y="942.36" font-size="12.5" fill="#262626" text-anchor="middle" transform="matrix(0.88,0,0,1,90.67,0)" >60</text>
<text x="795.95 803.05" y="942.36" font-size="12.5" fill="#262626" text-anchor="middle" transform="matrix(0.88,0,0,1,95.94,0)" >26</text>
<text x="836.40 843.50 850.60" y="942.36" font-size="12.5" fill="#262626" text-anchor="middle" transform="matrix(0.88,0,0,1,101.22,0)" >770</text>
<text x="870.04 877.15 884.25 891.35 898.45 905.56" y="942.36" font-size="12.5" fill="#262626" text-anchor="middle" transform="matrix(0.88,0,0,1,106.54,0)" >BDD-35</text>
<text x="707.75 714.85" y="963.12" font-size="12.5" fill="#262626" text-anchor="middle" transform="matrix(0.88,0,0,1,85.36,0)" >38</text>
<text x="752.05 759.15" y="963.12" font-size="12.5" fill="#262626" text-anchor="middle" transform="matrix(0.88,0,0,1,90.67,0)" >65</text>
<text x="795.95 803.05" y="963.12" font-size="12.5" fill="#262626" text-anchor="middle" transform="matrix(0.88,0,0,1,95.94,0)" >26</text>
<text x="836.40 843.50 850.60" y="963.12" font-size="12.5" fill="#262626" text-anchor="middle" transform="matrix(0.88,0,0,1,101.22,0)" >940</text>
<text x="870.04 877.15 884.25 891.35 898.45 905.56" y="963.12" font-size="12.5" fill="#262626" text-anchor="middle" transform="matrix(0.88,0,0,1,106.54,0)" >BDD-38</text>
<text x="707.75 714.85" y="983.88" font-size="12.5" fill="#262626" text-anchor="middle" transform="matrix(0.88,0,0,1,85.36,0)" >40</text>
<text x="752.05 759.15" y="983.88" font-size="12.5" fill="#262626" text-anchor="middle" transform="matrix(0.88,0,0,1,90.67,0)" >65</text>
<text x="795.95 803.05" y="983.88" font-size="12.5" fill="#262626" text-anchor="middle" transform="matrix(0.88,0,0,1,95.94,0)" >26</text>
<text x="836.40 843.50 850.60" y="983.88" font-size="12.5" fill="#262626" text-anchor="middle" transform="matrix(0.88,0,0,1,101.22,0)" >980</text>
<text x="870.04 877.15 884.25 891.35 898.45 905.56" y="983.88" font-size="12.5" fill="#262626" text-anchor="middle" transform="matrix(0.88,0,0,1,106.54,0)" >BDD-40</text>
<text x="707.75 714.85" y="1004.64" font-size="12.5" fill="#262626" text-anchor="middle" transform="matrix(0.88,0,0,1,85.36,0)" >42</text>
<text x="752.05 759.15" y="1004.64" font-size="12.5" fill="#262626" text-anchor="middle" transform="matrix(0.88,0,0,1,90.67,0)" >75</text>
<text x="795.95 803.05" y="1004.64" font-size="12.5" fill="#262626" text-anchor="middle" transform="matrix(0.88,0,0,1,95.94,0)" >32</text>
<text x="832.85 839.95 847.05 854.15" y="1004.64" font-size="12.5" fill="#262626" text-anchor="middle" transform="matrix(0.88,0,0,1,101.22,0)" >1560</text>
<text x="870.04 877.15 884.25 891.35 898.45 905.56" y="1004.64" font-size="12.5" fill="#262626" text-anchor="middle" transform="matrix(0.88,0,0,1,106.54,0)" >BDD-42</text>
<text x="707.75 714.85" y="1025.40" font-size="12.5" fill="#262626" text-anchor="middle" transform="matrix(0.88,0,0,1,85.36,0)" >45</text>
<text x="752.05 759.15" y="1025.40" font-size="12.5" fill="#262626" text-anchor="middle" transform="matrix(0.88,0,0,1,90.67,0)" >75</text>
<text x="795.95 803.05" y="1025.40" font-size="12.5" fill="#262626" text-anchor="middle" transform="matrix(0.88,0,0,1,95.94,0)" >32</text>
<text x="832.85 839.95 847.05 854.15" y="1025.40" font-size="12.5" fill="#262626" text-anchor="middle" transform="matrix(0.88,0,0,1,101.22,0)" >1700</text>
<text x="870.04 877.15 884.25 891.35 898.45 905.56" y="1025.40" font-size="12.5" fill="#262626" text-anchor="middle" transform="matrix(0.88,0,0,1,106.54,0)" >BDD-45</text>
<text x="707.75 714.85" y="1046.16" font-size="12.5" fill="#262626" text-anchor="middle" transform="matrix(0.88,0,0,1,85.36,0)" >50</text>
<text x="752.05 759.15" y="1046.16" font-size="12.5" fill="#262626" text-anchor="middle" transform="matrix(0.88,0,0,1,90.67,0)" >80</text>
<text x="795.95 803.05" y="1046.16" font-size="12.5" fill="#262626" text-anchor="middle" transform="matrix(0.88,0,0,1,95.94,0)" >32</text>
<text x="832.85 839.95 847.05 854.15" y="1046.16" font-size="12.5" fill="#262626" text-anchor="middle" transform="matrix(0.88,0,0,1,101.22,0)" >1830</text>
<text x="870.04 877.15 884.25 891.35 898.45 905.56" y="1046.16" font-size="12.5" fill="#262626" text-anchor="middle" transform="matrix(0.88,0,0,1,106.54,0)" >BDD-50</text>
<rect x="0" y="952" width="14.5" height="12.6" rx="2.6" fill="#e2609e"/>
<path d="M5.2,954.3 L9.3,954.3 L8.2,959.6 L6.3,959.6 Z" fill="#fff"/>
<rect x="5.8" y="960.6" width="2.9" height="2.2" rx="0.8" fill="#fff"/>
<text x="16.00" y="963.60" font-size="12.5" fill="#262626" text-anchor="start" textLength="25.00" lengthAdjust="spacingAndGlyphs" >内孔</text>
<text x="44.12" y="963.60" font-size="12.5" fill="#262626" text-anchor="middle" transform="matrix(0.88,0,0,1,5.29,0)" >D</text>
<text x="47.25" y="963.60" font-size="12.5" fill="#262626" text-anchor="start" textLength="312.50" lengthAdjust="spacingAndGlyphs" >除了要符合左表中之范围，并且只能从右表中选择，比如</text>
<text x="362.45 369.55" y="963.60" font-size="12.5" fill="#1e98d5" text-anchor="middle" transform="matrix(0.88,0,0,1,43.92,0)" >10</text>
<text x="372.25" y="963.60" font-size="12.5" fill="#1e98d5" text-anchor="start" textLength="12.50" lengthAdjust="spacingAndGlyphs" >〜</text>
<text x="387.45 394.55" y="963.60" font-size="12.5" fill="#1e98d5" text-anchor="middle" transform="matrix(0.88,0,0,1,46.92,0)" >16</text>
<text x="397.25" y="963.60" font-size="12.5" fill="#262626" text-anchor="start" textLength="62.50" lengthAdjust="spacingAndGlyphs" >，可选值为</text>
<text x="462.45 469.55" y="963.60" font-size="12.5" fill="#262626" text-anchor="middle" transform="matrix(0.88,0,0,1,55.92,0)" >10</text>
<text x="472.25" y="963.60" font-size="12.5" fill="#262626" text-anchor="start" textLength="12.50" lengthAdjust="spacingAndGlyphs" >・</text>
<text x="487.45 494.55" y="963.60" font-size="12.5" fill="#262626" text-anchor="middle" transform="matrix(0.88,0,0,1,58.92,0)" >11</text>
<text x="497.25" y="963.60" font-size="12.5" fill="#262626" text-anchor="start" textLength="12.50" lengthAdjust="spacingAndGlyphs" >・</text>
<text x="512.45 519.55" y="963.60" font-size="12.5" fill="#262626" text-anchor="middle" transform="matrix(0.88,0,0,1,61.92,0)" >12</text>
<text x="522.25" y="963.60" font-size="12.5" fill="#262626" text-anchor="start" textLength="12.50" lengthAdjust="spacingAndGlyphs" >・</text>
<text x="537.45 544.55" y="963.60" font-size="12.5" fill="#262626" text-anchor="middle" transform="matrix(0.88,0,0,1,64.92,0)" >14</text>
<text x="547.25" y="963.60" font-size="12.5" fill="#262626" text-anchor="start" textLength="12.50" lengthAdjust="spacingAndGlyphs" >・</text>
<text x="562.45 569.55" y="963.60" font-size="12.5" fill="#262626" text-anchor="middle" transform="matrix(0.88,0,0,1,67.92,0)" >15</text>
<text x="572.25" y="963.60" font-size="12.5" fill="#262626" text-anchor="start" textLength="12.50" lengthAdjust="spacingAndGlyphs" >・</text>
<text x="587.45 594.55" y="963.60" font-size="12.5" fill="#262626" text-anchor="middle" transform="matrix(0.88,0,0,1,70.92,0)" >16</text>
<text x="597.25" y="963.60" font-size="12.5" fill="#262626" text-anchor="start" textLength="12.50" lengthAdjust="spacingAndGlyphs" >。</text>
<rect x="0" y="968" width="14.5" height="12.6" rx="2.6" fill="#e2609e"/>
<path d="M5.2,970.3 L9.3,970.3 L8.2,975.6 L6.3,975.6 Z" fill="#fff"/>
<rect x="5.8" y="976.6" width="2.9" height="2.2" rx="0.8" fill="#fff"/>
<text x="16.00" y="979.40" font-size="12.5" fill="#262626" text-anchor="start" textLength="300.00" lengthAdjust="spacingAndGlyphs" >只有齿形及宽度代码相同的带轮和皮带才能配套使用。</text>
<rect x="0.6" y="1064.4" width="908.6" height="105.6" fill="none" stroke="#f0865a" stroke-width="1.3"/>
<circle cx="53" cy="1117.6" r="23.6" fill="none" stroke="#3a76a6" stroke-width="4.6"/>
<g fill="none" stroke="#3a76a6" stroke-width="2.4" stroke-linecap="butt"><path d="M35,1111.8 L60,1111.8 M37,1116.4 L59,1116.4 M39,1121 L57.5,1121 M61.5,1105.8 L71,1105.8 M62,1105.8 L57.5,1124.5 L41,1124.5"/></g>
<circle cx="42" cy="1129.5" r="1.8" fill="#3a76a6"/><circle cx="58.8" cy="1129.5" r="2.8" fill="#3a76a6"/>
<text x="84.00" y="1113.60" font-size="13.2" fill="#555" text-anchor="start" letter-spacing="2">订购范例</text>
<text x="84.00" y="1129.40" font-size="12.5" fill="#555" text-anchor="start" letter-spacing="4.9" font-family="Liberation Mono">Order</text>
<rect x="153.4" y="1081.6" width="338.6" height="55.6" fill="none" stroke="#333" stroke-width="1.4"/>
<line x1="153.40" y1="1100.40" x2="492.00" y2="1100.40" stroke="#777" stroke-width="1" />
<line x1="153.40" y1="1118.60" x2="492.00" y2="1118.60" stroke="#777" stroke-width="1" />
<line x1="224.40" y1="1100.40" x2="224.40" y2="1137.20" stroke="#555" stroke-width="1" />
<line x1="242.40" y1="1100.40" x2="242.40" y2="1137.20" stroke="#555" stroke-width="1" />
<line x1="313.80" y1="1100.40" x2="313.80" y2="1137.20" stroke="#555" stroke-width="1" />
<line x1="331.40" y1="1100.40" x2="331.40" y2="1137.20" stroke="#555" stroke-width="1" />
<line x1="403.00" y1="1100.40" x2="403.00" y2="1137.20" stroke="#555" stroke-width="1" />
<line x1="420.60" y1="1100.40" x2="420.60" y2="1137.20" stroke="#555" stroke-width="1" />
<text x="266.45" y="1096.00" font-size="12.5" fill="#262626" text-anchor="start" textLength="112.50" lengthAdjust="spacingAndGlyphs" >标准品名：同步带轮</text>
<circle cx="169.85" cy="1109.90" r="6.2" fill="#ee6a2c"/>
<text x="169.85" y="1113.70" font-size="10.5" fill="#fff" text-anchor="middle">1</text>
<text x="176.65" y="1114.20" font-size="12.5" fill="#262626" text-anchor="start" textLength="37.50" lengthAdjust="spacingAndGlyphs" >类型码</text>
<text x="233.40" y="1113.50" font-size="12.5" fill="#262626" text-anchor="middle" transform="matrix(0.88,0,0,1,28.01,0)" >–</text>
<circle cx="265.30" cy="1109.90" r="6.2" fill="#ee6a2c"/>
<text x="265.30" y="1113.70" font-size="10.5" fill="#fff" text-anchor="middle">2</text>
<text x="272.10" y="1114.20" font-size="12.5" fill="#262626" text-anchor="start" textLength="25.00" lengthAdjust="spacingAndGlyphs" >齿数</text>
<text x="322.60" y="1113.50" font-size="12.5" fill="#262626" text-anchor="middle" transform="matrix(0.88,0,0,1,38.71,0)" >–</text>
<circle cx="341.90" cy="1109.90" r="6.2" fill="#ee6a2c"/>
<text x="341.90" y="1113.70" font-size="10.5" fill="#fff" text-anchor="middle">3</text>
<text x="348.70" y="1114.20" font-size="12.5" fill="#262626" text-anchor="start" textLength="50.00" lengthAdjust="spacingAndGlyphs" >宽度代码</text>
<text x="411.80" y="1113.50" font-size="12.5" fill="#262626" text-anchor="middle" transform="matrix(0.88,0,0,1,49.42,0)" >–</text>
<circle cx="452.88" cy="1109.90" r="6.2" fill="#ee6a2c"/>
<text x="452.88" y="1113.70" font-size="10.5" fill="#fff" text-anchor="middle">4</text>
<text x="462.80" y="1114.20" font-size="12.5" fill="#262626" text-anchor="middle" transform="matrix(0.88,0,0,1,55.54,0)" >D</text>
<text x="171.14 178.25 185.35 192.45 199.55 206.66" y="1132.40" font-size="12.5" fill="#1e98d5" text-anchor="middle" transform="matrix(0.88,0,0,1,22.67,0)" >TAET10</text>
<text x="233.40" y="1131.50" font-size="12.5" fill="#1e98d5" text-anchor="middle" transform="matrix(0.88,0,0,1,28.01,0)" >–</text>
<text x="274.55 281.65" y="1132.40" font-size="12.5" fill="#1e98d5" text-anchor="middle" transform="matrix(0.88,0,0,1,33.37,0)" >14</text>
<text x="322.60" y="1131.50" font-size="12.5" fill="#1e98d5" text-anchor="middle" transform="matrix(0.88,0,0,1,38.71,0)" >–</text>
<text x="360.10 367.20 374.30" y="1132.40" font-size="12.5" fill="#1e98d5" text-anchor="middle" transform="matrix(0.88,0,0,1,44.06,0)" >150</text>
<text x="411.80" y="1131.50" font-size="12.5" fill="#1e98d5" text-anchor="middle" transform="matrix(0.88,0,0,1,49.42,0)" >–</text>
<text x="452.75 459.85" y="1132.40" font-size="12.5" fill="#1e98d5" text-anchor="middle" transform="matrix(0.88,0,0,1,54.76,0)" >D8</text>
<rect x="153.4" y="1141.2" width="14.5" height="12.6" rx="2.6" fill="#e2609e"/>
<path d="M158.6,1143.5 L162.70000000000002,1143.5 L161.6,1148.8 L159.70000000000002,1148.8 Z" fill="#fff"/>
<rect x="159.20000000000002" y="1149.8" width="2.9" height="2.2" rx="0.8" fill="#fff"/>
<circle cx="175.40" cy="1147.60" r="6.2" fill="#ee6a2c"/>
<text x="175.40" y="1151.40" font-size="10.5" fill="#fff" text-anchor="middle">4</text>
<text x="182.00" y="1152.60" font-size="12.5" fill="#262626" text-anchor="start" textLength="150.00" lengthAdjust="spacingAndGlyphs" >步请在数字前加字母，比如</text>
<text x="334.70 341.80" y="1152.60" font-size="12.5" fill="#1e98d5" text-anchor="middle" transform="matrix(0.88,0,0,1,40.59,0)" >D8</text>
<text x="344.50" y="1152.60" font-size="12.5" fill="#262626" text-anchor="start" textLength="12.50" lengthAdjust="spacingAndGlyphs" >。</text>
<circle cx="620" cy="1117.4" r="23.6" fill="none" stroke="#3a76a6" stroke-width="4.6"/>
<g fill="none" stroke="#3a76a6" stroke-width="1.6" stroke-linejoin="round"><path d="M605,1113 L621,1105 L634.5,1110.5 L619.5,1119 Z"/><path d="M605,1113 L605,1124 L619.5,1132 L634.5,1123.5 L634.5,1110.5"/><path d="M619.5,1119 L619.5,1132"/></g>
<path d="M612,1102.5 L624.5,1102.5 L634.5,1110.5 L622,1110.5 Z" fill="#3a76a6"/>
<path d="M607.5,1117 L616,1121.5 L616,1127 L607.5,1122.5 Z" fill="#3a76a6"/>
<text x="650.00" y="1114.40" font-size="12.5" fill="#555" text-anchor="start" letter-spacing="3">交 货 期</text>
<text x="650.00" y="1130.20" font-size="12" fill="#555" text-anchor="start" letter-spacing="0" font-family="Liberation Mono">Delivery</text>
<rect x="719.8" y="1103" width="88.2" height="28.4" rx="4" fill="#b9d2de" stroke="#333" stroke-width="1.2"/>
<text x="737.00" y="1126.30" font-size="25" fill="#1a1a1a" text-anchor="middle" transform="translate(737 1126.3) skewX(-16) translate(-737 -1126.3)">5</text>
<text x="781.00" y="1121.80" font-size="14" fill="#222" text-anchor="middle" >天发货</text>
<path d="M829.40,1080.20h2.19v2.19h-2.19zM831.59,1080.20h2.19v2.19h-2.19zM833.79,1080.20h2.19v2.19h-2.19zM835.98,1080.20h2.19v2.19h-2.19zM838.17,1080.20h2.19v2.19h-2.19zM840.36,1080.20h2.19v2.19h-2.19zM842.56,1080.20h2.19v2.19h-2.19zM846.94,1080.20h2.19v2.19h-2.19zM849.13,1080.20h2.19v2.19h-2.19zM851.33,1080.20h2.19v2.19h-2.19zM853.52,1080.20h2.19v2.19h-2.19zM855.71,1080.20h2.19v2.19h-2.19zM860.10,1080.20h2.19v2.19h-2.19zM862.29,1080.20h2.19v2.19h-2.19zM873.25,1080.20h2.19v2.19h-2.19zM875.44,1080.20h2.19v2.19h-2.19zM877.64,1080.20h2.19v2.19h-2.19zM879.83,1080.20h2.19v2.19h-2.19zM882.02,1080.20h2.19v2.19h-2.19zM884.21,1080.20h2.19v2.19h-2.19zM886.41,1080.20h2.19v2.19h-2.19zM829.40,1082.39h2.19v2.19h-2.19zM842.56,1082.39h2.19v2.19h-2.19zM846.94,1082.39h2.19v2.19h-2.19zM851.33,1082.39h2.19v2.19h-2.19zM853.52,1082.39h2.19v2.19h-2.19zM857.90,1082.39h2.19v2.19h-2.19zM860.10,1082.39h2.19v2.19h-2.19zM866.67,1082.39h2.19v2.19h-2.19zM873.25,1082.39h2.19v2.19h-2.19zM886.41,1082.39h2.19v2.19h-2.19zM829.40,1084.59h2.19v2.19h-2.19zM833.79,1084.59h2.19v2.19h-2.19zM835.98,1084.59h2.19v2.19h-2.19zM838.17,1084.59h2.19v2.19h-2.19zM842.56,1084.59h2.19v2.19h-2.19zM853.52,1084.59h2.19v2.19h-2.19zM860.10,1084.59h2.19v2.19h-2.19zM864.48,1084.59h2.19v2.19h-2.19zM873.25,1084.59h2.19v2.19h-2.19zM877.64,1084.59h2.19v2.19h-2.19zM879.83,1084.59h2.19v2.19h-2.19zM882.02,1084.59h2.19v2.19h-2.19zM886.41,1084.59h2.19v2.19h-2.19zM829.40,1086.78h2.19v2.19h-2.19zM833.79,1086.78h2.19v2.19h-2.19zM835.98,1086.78h2.19v2.19h-2.19zM838.17,1086.78h2.19v2.19h-2.19zM842.56,1086.78h2.19v2.19h-2.19zM846.94,1086.78h2.19v2.19h-2.19zM849.13,1086.78h2.19v2.19h-2.19zM857.90,1086.78h2.19v2.19h-2.19zM860.10,1086.78h2.19v2.19h-2.19zM862.29,1086.78h2.19v2.19h-2.19zM868.87,1086.78h2.19v2.19h-2.19zM873.25,1086.78h2.19v2.19h-2.19zM877.64,1086.78h2.19v2.19h-2.19zM879.83,1086.78h2.19v2.19h-2.19zM882.02,1086.78h2.19v2.19h-2.19zM886.41,1086.78h2.19v2.19h-2.19zM829.40,1088.97h2.19v2.19h-2.19zM833.79,1088.97h2.19v2.19h-2.19zM835.98,1088.97h2.19v2.19h-2.19zM838.17,1088.97h2.19v2.19h-2.19zM842.56,1088.97h2.19v2.19h-2.19zM855.71,1088.97h2.19v2.19h-2.19zM857.90,1088.97h2.19v2.19h-2.19zM860.10,1088.97h2.19v2.19h-2.19zM864.48,1088.97h2.19v2.19h-2.19zM866.67,1088.97h2.19v2.19h-2.19zM868.87,1088.97h2.19v2.19h-2.19zM873.25,1088.97h2.19v2.19h-2.19zM877.64,1088.97h2.19v2.19h-2.19zM879.83,1088.97h2.19v2.19h-2.19zM882.02,1088.97h2.19v2.19h-2.19zM886.41,1088.97h2.19v2.19h-2.19zM829.40,1091.16h2.19v2.19h-2.19zM842.56,1091.16h2.19v2.19h-2.19zM849.13,1091.16h2.19v2.19h-2.19zM851.33,1091.16h2.19v2.19h-2.19zM853.52,1091.16h2.19v2.19h-2.19zM855.71,1091.16h2.19v2.19h-2.19zM857.90,1091.16h2.19v2.19h-2.19zM860.10,1091.16h2.19v2.19h-2.19zM864.48,1091.16h2.19v2.19h-2.19zM866.67,1091.16h2.19v2.19h-2.19zM873.25,1091.16h2.19v2.19h-2.19zM886.41,1091.16h2.19v2.19h-2.19zM829.40,1093.36h2.19v2.19h-2.19zM831.59,1093.36h2.19v2.19h-2.19zM833.79,1093.36h2.19v2.19h-2.19zM835.98,1093.36h2.19v2.19h-2.19zM838.17,1093.36h2.19v2.19h-2.19zM840.36,1093.36h2.19v2.19h-2.19zM842.56,1093.36h2.19v2.19h-2.19zM860.10,1093.36h2.19v2.19h-2.19zM862.29,1093.36h2.19v2.19h-2.19zM864.48,1093.36h2.19v2.19h-2.19zM866.67,1093.36h2.19v2.19h-2.19zM868.87,1093.36h2.19v2.19h-2.19zM873.25,1093.36h2.19v2.19h-2.19zM875.44,1093.36h2.19v2.19h-2.19zM877.64,1093.36h2.19v2.19h-2.19zM879.83,1093.36h2.19v2.19h-2.19zM882.02,1093.36h2.19v2.19h-2.19zM884.21,1093.36h2.19v2.19h-2.19zM886.41,1093.36h2.19v2.19h-2.19zM846.94,1095.55h2.19v2.19h-2.19zM853.52,1095.55h2.19v2.19h-2.19zM864.48,1095.55h2.19v2.19h-2.19zM866.67,1095.55h2.19v2.19h-2.19zM829.40,1097.74h2.19v2.19h-2.19zM831.59,1097.74h2.19v2.19h-2.19zM838.17,1097.74h2.19v2.19h-2.19zM846.94,1097.74h2.19v2.19h-2.19zM849.13,1097.74h2.19v2.19h-2.19zM851.33,1097.74h2.19v2.19h-2.19zM853.52,1097.74h2.19v2.19h-2.19zM860.10,1097.74h2.19v2.19h-2.19zM864.48,1097.74h2.19v2.19h-2.19zM871.06,1097.74h2.19v2.19h-2.19zM873.25,1097.74h2.19v2.19h-2.19zM875.44,1097.74h2.19v2.19h-2.19zM877.64,1097.74h2.19v2.19h-2.19zM882.02,1097.74h2.19v2.19h-2.19zM884.21,1097.74h2.19v2.19h-2.19zM886.41,1097.74h2.19v2.19h-2.19zM831.59,1099.93h2.19v2.19h-2.19zM833.79,1099.93h2.19v2.19h-2.19zM840.36,1099.93h2.19v2.19h-2.19zM844.75,1099.93h2.19v2.19h-2.19zM846.94,1099.93h2.19v2.19h-2.19zM849.13,1099.93h2.19v2.19h-2.19zM851.33,1099.93h2.19v2.19h-2.19zM853.52,1099.93h2.19v2.19h-2.19zM855.71,1099.93h2.19v2.19h-2.19zM857.90,1099.93h2.19v2.19h-2.19zM862.29,1099.93h2.19v2.19h-2.19zM864.48,1099.93h2.19v2.19h-2.19zM868.87,1099.93h2.19v2.19h-2.19zM871.06,1099.93h2.19v2.19h-2.19zM873.25,1099.93h2.19v2.19h-2.19zM875.44,1099.93h2.19v2.19h-2.19zM879.83,1099.93h2.19v2.19h-2.19zM884.21,1099.93h2.19v2.19h-2.19zM886.41,1099.93h2.19v2.19h-2.19zM831.59,1102.13h2.19v2.19h-2.19zM840.36,1102.13h2.19v2.19h-2.19zM844.75,1102.13h2.19v2.19h-2.19zM846.94,1102.13h2.19v2.19h-2.19zM851.33,1102.13h2.19v2.19h-2.19zM853.52,1102.13h2.19v2.19h-2.19zM855.71,1102.13h2.19v2.19h-2.19zM866.67,1102.13h2.19v2.19h-2.19zM868.87,1102.13h2.19v2.19h-2.19zM875.44,1102.13h2.19v2.19h-2.19zM877.64,1102.13h2.19v2.19h-2.19zM879.83,1102.13h2.19v2.19h-2.19zM882.02,1102.13h2.19v2.19h-2.19zM884.21,1102.13h2.19v2.19h-2.19zM886.41,1102.13h2.19v2.19h-2.19zM835.98,1104.32h2.19v2.19h-2.19zM842.56,1104.32h2.19v2.19h-2.19zM849.13,1104.32h2.19v2.19h-2.19zM853.52,1104.32h2.19v2.19h-2.19zM855.71,1104.32h2.19v2.19h-2.19zM862.29,1104.32h2.19v2.19h-2.19zM864.48,1104.32h2.19v2.19h-2.19zM866.67,1104.32h2.19v2.19h-2.19zM868.87,1104.32h2.19v2.19h-2.19zM871.06,1104.32h2.19v2.19h-2.19zM873.25,1104.32h2.19v2.19h-2.19zM877.64,1104.32h2.19v2.19h-2.19zM879.83,1104.32h2.19v2.19h-2.19zM882.02,1104.32h2.19v2.19h-2.19zM884.21,1104.32h2.19v2.19h-2.19zM886.41,1104.32h2.19v2.19h-2.19zM831.59,1106.51h2.19v2.19h-2.19zM833.79,1106.51h2.19v2.19h-2.19zM842.56,1106.51h2.19v2.19h-2.19zM844.75,1106.51h2.19v2.19h-2.19zM846.94,1106.51h2.19v2.19h-2.19zM851.33,1106.51h2.19v2.19h-2.19zM853.52,1106.51h2.19v2.19h-2.19zM855.71,1106.51h2.19v2.19h-2.19zM862.29,1106.51h2.19v2.19h-2.19zM864.48,1106.51h2.19v2.19h-2.19zM873.25,1106.51h2.19v2.19h-2.19zM875.44,1106.51h2.19v2.19h-2.19zM879.83,1106.51h2.19v2.19h-2.19zM882.02,1106.51h2.19v2.19h-2.19zM831.59,1108.70h2.19v2.19h-2.19zM835.98,1108.70h2.19v2.19h-2.19zM840.36,1108.70h2.19v2.19h-2.19zM842.56,1108.70h2.19v2.19h-2.19zM844.75,1108.70h2.19v2.19h-2.19zM849.13,1108.70h2.19v2.19h-2.19zM851.33,1108.70h2.19v2.19h-2.19zM853.52,1108.70h2.19v2.19h-2.19zM855.71,1108.70h2.19v2.19h-2.19zM857.90,1108.70h2.19v2.19h-2.19zM860.10,1108.70h2.19v2.19h-2.19zM862.29,1108.70h2.19v2.19h-2.19zM864.48,1108.70h2.19v2.19h-2.19zM866.67,1108.70h2.19v2.19h-2.19zM868.87,1108.70h2.19v2.19h-2.19zM873.25,1108.70h2.19v2.19h-2.19zM875.44,1108.70h2.19v2.19h-2.19zM877.64,1108.70h2.19v2.19h-2.19zM879.83,1108.70h2.19v2.19h-2.19zM882.02,1108.70h2.19v2.19h-2.19zM884.21,1108.70h2.19v2.19h-2.19zM886.41,1108.70h2.19v2.19h-2.19zM831.59,1110.90h2.19v2.19h-2.19zM833.79,1110.90h2.19v2.19h-2.19zM835.98,1110.90h2.19v2.19h-2.19zM840.36,1110.90h2.19v2.19h-2.19zM844.75,1110.90h2.19v2.19h-2.19zM846.94,1110.90h2.19v2.19h-2.19zM851.33,1110.90h2.19v2.19h-2.19zM853.52,1110.90h2.19v2.19h-2.19zM860.10,1110.90h2.19v2.19h-2.19zM868.87,1110.90h2.19v2.19h-2.19zM871.06,1110.90h2.19v2.19h-2.19zM873.25,1110.90h2.19v2.19h-2.19zM875.44,1110.90h2.19v2.19h-2.19zM877.64,1110.90h2.19v2.19h-2.19zM882.02,1110.90h2.19v2.19h-2.19zM884.21,1110.90h2.19v2.19h-2.19zM886.41,1110.90h2.19v2.19h-2.19zM835.98,1113.09h2.19v2.19h-2.19zM838.17,1113.09h2.19v2.19h-2.19zM840.36,1113.09h2.19v2.19h-2.19zM842.56,1113.09h2.19v2.19h-2.19zM844.75,1113.09h2.19v2.19h-2.19zM846.94,1113.09h2.19v2.19h-2.19zM849.13,1113.09h2.19v2.19h-2.19zM855.71,1113.09h2.19v2.19h-2.19zM857.90,1113.09h2.19v2.19h-2.19zM862.29,1113.09h2.19v2.19h-2.19zM864.48,1113.09h2.19v2.19h-2.19zM866.67,1113.09h2.19v2.19h-2.19zM868.87,1113.09h2.19v2.19h-2.19zM871.06,1113.09h2.19v2.19h-2.19zM873.25,1113.09h2.19v2.19h-2.19zM875.44,1113.09h2.19v2.19h-2.19zM877.64,1113.09h2.19v2.19h-2.19zM879.83,1113.09h2.19v2.19h-2.19zM882.02,1113.09h2.19v2.19h-2.19zM884.21,1113.09h2.19v2.19h-2.19zM886.41,1113.09h2.19v2.19h-2.19zM829.40,1115.28h2.19v2.19h-2.19zM831.59,1115.28h2.19v2.19h-2.19zM833.79,1115.28h2.19v2.19h-2.19zM835.98,1115.28h2.19v2.19h-2.19zM840.36,1115.28h2.19v2.19h-2.19zM851.33,1115.28h2.19v2.19h-2.19zM853.52,1115.28h2.19v2.19h-2.19zM857.90,1115.28h2.19v2.19h-2.19zM864.48,1115.28h2.19v2.19h-2.19zM877.64,1115.28h2.19v2.19h-2.19zM879.83,1115.28h2.19v2.19h-2.19zM882.02,1115.28h2.19v2.19h-2.19zM840.36,1117.47h2.19v2.19h-2.19zM842.56,1117.47h2.19v2.19h-2.19zM844.75,1117.47h2.19v2.19h-2.19zM846.94,1117.47h2.19v2.19h-2.19zM849.13,1117.47h2.19v2.19h-2.19zM853.52,1117.47h2.19v2.19h-2.19zM862.29,1117.47h2.19v2.19h-2.19zM864.48,1117.47h2.19v2.19h-2.19zM871.06,1117.47h2.19v2.19h-2.19zM873.25,1117.47h2.19v2.19h-2.19zM877.64,1117.47h2.19v2.19h-2.19zM882.02,1117.47h2.19v2.19h-2.19zM884.21,1117.47h2.19v2.19h-2.19zM886.41,1117.47h2.19v2.19h-2.19zM831.59,1119.67h2.19v2.19h-2.19zM838.17,1119.67h2.19v2.19h-2.19zM840.36,1119.67h2.19v2.19h-2.19zM842.56,1119.67h2.19v2.19h-2.19zM853.52,1119.67h2.19v2.19h-2.19zM855.71,1119.67h2.19v2.19h-2.19zM857.90,1119.67h2.19v2.19h-2.19zM862.29,1119.67h2.19v2.19h-2.19zM866.67,1119.67h2.19v2.19h-2.19zM868.87,1119.67h2.19v2.19h-2.19zM871.06,1119.67h2.19v2.19h-2.19zM879.83,1119.67h2.19v2.19h-2.19zM882.02,1119.67h2.19v2.19h-2.19zM884.21,1119.67h2.19v2.19h-2.19zM886.41,1119.67h2.19v2.19h-2.19zM849.13,1121.86h2.19v2.19h-2.19zM851.33,1121.86h2.19v2.19h-2.19zM853.52,1121.86h2.19v2.19h-2.19zM857.90,1121.86h2.19v2.19h-2.19zM862.29,1121.86h2.19v2.19h-2.19zM864.48,1121.86h2.19v2.19h-2.19zM868.87,1121.86h2.19v2.19h-2.19zM873.25,1121.86h2.19v2.19h-2.19zM879.83,1121.86h2.19v2.19h-2.19zM884.21,1121.86h2.19v2.19h-2.19zM886.41,1121.86h2.19v2.19h-2.19zM829.40,1124.05h2.19v2.19h-2.19zM831.59,1124.05h2.19v2.19h-2.19zM833.79,1124.05h2.19v2.19h-2.19zM835.98,1124.05h2.19v2.19h-2.19zM838.17,1124.05h2.19v2.19h-2.19zM840.36,1124.05h2.19v2.19h-2.19zM842.56,1124.05h2.19v2.19h-2.19zM846.94,1124.05h2.19v2.19h-2.19zM853.52,1124.05h2.19v2.19h-2.19zM862.29,1124.05h2.19v2.19h-2.19zM864.48,1124.05h2.19v2.19h-2.19zM866.67,1124.05h2.19v2.19h-2.19zM873.25,1124.05h2.19v2.19h-2.19zM875.44,1124.05h2.19v2.19h-2.19zM877.64,1124.05h2.19v2.19h-2.19zM879.83,1124.05h2.19v2.19h-2.19zM882.02,1124.05h2.19v2.19h-2.19zM886.41,1124.05h2.19v2.19h-2.19zM829.40,1126.24h2.19v2.19h-2.19zM842.56,1126.24h2.19v2.19h-2.19zM855.71,1126.24h2.19v2.19h-2.19zM860.10,1126.24h2.19v2.19h-2.19zM864.48,1126.24h2.19v2.19h-2.19zM871.06,1126.24h2.19v2.19h-2.19zM873.25,1126.24h2.19v2.19h-2.19zM877.64,1126.24h2.19v2.19h-2.19zM879.83,1126.24h2.19v2.19h-2.19zM882.02,1126.24h2.19v2.19h-2.19zM884.21,1126.24h2.19v2.19h-2.19zM829.40,1128.44h2.19v2.19h-2.19zM833.79,1128.44h2.19v2.19h-2.19zM835.98,1128.44h2.19v2.19h-2.19zM838.17,1128.44h2.19v2.19h-2.19zM842.56,1128.44h2.19v2.19h-2.19zM846.94,1128.44h2.19v2.19h-2.19zM851.33,1128.44h2.19v2.19h-2.19zM853.52,1128.44h2.19v2.19h-2.19zM860.10,1128.44h2.19v2.19h-2.19zM862.29,1128.44h2.19v2.19h-2.19zM864.48,1128.44h2.19v2.19h-2.19zM866.67,1128.44h2.19v2.19h-2.19zM868.87,1128.44h2.19v2.19h-2.19zM871.06,1128.44h2.19v2.19h-2.19zM873.25,1128.44h2.19v2.19h-2.19zM875.44,1128.44h2.19v2.19h-2.19zM884.21,1128.44h2.19v2.19h-2.19zM886.41,1128.44h2.19v2.19h-2.19zM829.40,1130.63h2.19v2.19h-2.19zM833.79,1130.63h2.19v2.19h-2.19zM835.98,1130.63h2.19v2.19h-2.19zM838.17,1130.63h2.19v2.19h-2.19zM842.56,1130.63h2.19v2.19h-2.19zM851.33,1130.63h2.19v2.19h-2.19zM853.52,1130.63h2.19v2.19h-2.19zM855.71,1130.63h2.19v2.19h-2.19zM857.90,1130.63h2.19v2.19h-2.19zM860.10,1130.63h2.19v2.19h-2.19zM868.87,1130.63h2.19v2.19h-2.19zM871.06,1130.63h2.19v2.19h-2.19zM877.64,1130.63h2.19v2.19h-2.19zM882.02,1130.63h2.19v2.19h-2.19zM884.21,1130.63h2.19v2.19h-2.19zM829.40,1132.82h2.19v2.19h-2.19zM833.79,1132.82h2.19v2.19h-2.19zM835.98,1132.82h2.19v2.19h-2.19zM838.17,1132.82h2.19v2.19h-2.19zM842.56,1132.82h2.19v2.19h-2.19zM855.71,1132.82h2.19v2.19h-2.19zM857.90,1132.82h2.19v2.19h-2.19zM860.10,1132.82h2.19v2.19h-2.19zM864.48,1132.82h2.19v2.19h-2.19zM871.06,1132.82h2.19v2.19h-2.19zM873.25,1132.82h2.19v2.19h-2.19zM875.44,1132.82h2.19v2.19h-2.19zM882.02,1132.82h2.19v2.19h-2.19zM884.21,1132.82h2.19v2.19h-2.19zM886.41,1132.82h2.19v2.19h-2.19zM829.40,1135.01h2.19v2.19h-2.19zM842.56,1135.01h2.19v2.19h-2.19zM851.33,1135.01h2.19v2.19h-2.19zM853.52,1135.01h2.19v2.19h-2.19zM855.71,1135.01h2.19v2.19h-2.19zM862.29,1135.01h2.19v2.19h-2.19zM864.48,1135.01h2.19v2.19h-2.19zM866.67,1135.01h2.19v2.19h-2.19zM871.06,1135.01h2.19v2.19h-2.19zM873.25,1135.01h2.19v2.19h-2.19zM879.83,1135.01h2.19v2.19h-2.19zM882.02,1135.01h2.19v2.19h-2.19zM884.21,1135.01h2.19v2.19h-2.19zM886.41,1135.01h2.19v2.19h-2.19zM829.40,1137.21h2.19v2.19h-2.19zM831.59,1137.21h2.19v2.19h-2.19zM833.79,1137.21h2.19v2.19h-2.19zM835.98,1137.21h2.19v2.19h-2.19zM838.17,1137.21h2.19v2.19h-2.19zM840.36,1137.21h2.19v2.19h-2.19zM842.56,1137.21h2.19v2.19h-2.19zM849.13,1137.21h2.19v2.19h-2.19zM851.33,1137.21h2.19v2.19h-2.19zM855.71,1137.21h2.19v2.19h-2.19zM860.10,1137.21h2.19v2.19h-2.19zM862.29,1137.21h2.19v2.19h-2.19zM864.48,1137.21h2.19v2.19h-2.19zM866.67,1137.21h2.19v2.19h-2.19zM873.25,1137.21h2.19v2.19h-2.19zM875.44,1137.21h2.19v2.19h-2.19zM877.64,1137.21h2.19v2.19h-2.19zM882.02,1137.21h2.19v2.19h-2.19zM884.21,1137.21h2.19v2.19h-2.19zM886.41,1137.21h2.19v2.19h-2.19z" fill="#111"/>
<text x="859.00" y="1154.00" font-size="12.5" fill="#333" text-anchor="middle" >扫码查价</text>
<defs><mask id="wmm" maskUnits="userSpaceOnUse" x="0" y="0" width="910" height="1171"><rect x="0" y="0" width="910" height="1171" fill="#000"/>
<g transform="translate(318 448) rotate(-45.5)"><g fill="#fff" stroke="#fff" stroke-width="9" stroke-linejoin="round" stroke-linecap="round"><text x="0" y="0" font-size="128" font-family="Liberation Sans" letter-spacing="6" transform="scale(1.05 1)">SAML</text></g><g fill="none" stroke="#fff" stroke-width="18" stroke-linejoin="round"><rect x="372" y="-96" width="74" height="66.6" rx="20.7"/><rect x="412.7" y="-96" width="74" height="66.6" rx="20.7"/></g></g>
<g transform="translate(318 448) rotate(-45.5)"><g fill="#000" stroke="#000" stroke-width="5.4" stroke-linejoin="round" stroke-linecap="round"><text x="0" y="0" font-size="128" font-family="Liberation Sans" letter-spacing="6" transform="scale(1.05 1)">SAML</text></g><g fill="none" stroke="#000" stroke-width="14.4" stroke-linejoin="round"><rect x="372" y="-96" width="74" height="66.6" rx="20.7"/><rect x="412.7" y="-96" width="74" height="66.6" rx="20.7"/></g></g>
<g transform="translate(318 1106) rotate(-45.5)"><g fill="#fff" stroke="#fff" stroke-width="9" stroke-linejoin="round" stroke-linecap="round"><text x="0" y="0" font-size="128" font-family="Liberation Sans" letter-spacing="6" transform="scale(1.05 1)">SAML</text></g><g fill="none" stroke="#fff" stroke-width="18" stroke-linejoin="round"><rect x="372" y="-96" width="74" height="66.6" rx="20.7"/><rect x="412.7" y="-96" width="74" height="66.6" rx="20.7"/></g></g>
<g transform="translate(318 1106) rotate(-45.5)"><g fill="#000" stroke="#000" stroke-width="5.4" stroke-linejoin="round" stroke-linecap="round"><text x="0" y="0" font-size="128" font-family="Liberation Sans" letter-spacing="6" transform="scale(1.05 1)">SAML</text></g><g fill="none" stroke="#000" stroke-width="14.4" stroke-linejoin="round"><rect x="372" y="-96" width="74" height="66.6" rx="20.7"/><rect x="412.7" y="-96" width="74" height="66.6" rx="20.7"/></g></g>
</mask></defs>
<rect x="0" y="0" width="910" height="1171" fill="rgba(110,170,225,0.36)" mask="url(#wmm)"/>
</svg></body></html>
